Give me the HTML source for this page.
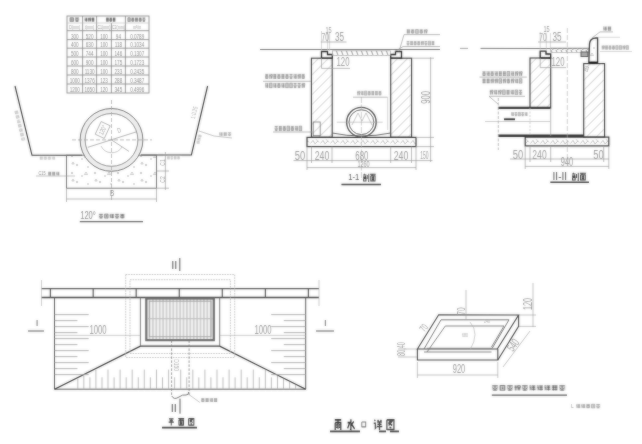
<!DOCTYPE html>
<html><head><meta charset="utf-8">
<style>
html,body{margin:0;padding:0;background:#fff;width:642px;height:444px;overflow:hidden}
svg{display:block;position:absolute;left:0;top:0}
text{font-family:"Liberation Sans",sans-serif}
</style></head><body>
<svg width="642" height="444" viewBox="0 0 642 444">
<defs>
<pattern id="hatch" patternUnits="userSpaceOnUse" width="7" height="7" patternTransform="rotate(45)">
<line x1="0" y1="0" x2="0" y2="7" stroke="#999" stroke-width="0.8"/>
</pattern>
<pattern id="conc" patternUnits="userSpaceOnUse" width="23" height="17">
<circle cx="3" cy="3" r="0.8" fill="#888"/><circle cx="13" cy="6" r="0.7" fill="#999"/><circle cx="8" cy="12" r="0.8" fill="#888"/><circle cx="19" cy="14" r="0.7" fill="#999"/><path d="M17 2 l1.5 2.5 h-3 z M4 9 l1.2 2 h-2.4 z" fill="none" stroke="#999" stroke-width="0.5"/>
</pattern>
<pattern id="slab" patternUnits="userSpaceOnUse" width="10" height="9.2" y="137.4">
<path d="M0.5 6 L3 3 L5 6.5 L8 3.5 M6 2 L9 5" stroke="#999" stroke-width="0.6" fill="none"/>
</pattern>
<pattern id="grate" patternUnits="userSpaceOnUse" width="3.4" height="10" x="149.5">
<rect width="3.4" height="10" fill="#cfcfcf"/><line x1="1.7" y1="0" x2="1.7" y2="10" stroke="#fff" stroke-width="1.3"/>
</pattern>
<pattern id="grt" patternUnits="userSpaceOnUse" width="5" height="5">
<line x1="1" y1="0" x2="3" y2="5" stroke="#aaa" stroke-width="1.2"/>
</pattern>
<filter id="bl" x="0" y="0" width="642" height="444" filterUnits="userSpaceOnUse"><feGaussianBlur in="SourceGraphic" stdDeviation="0.85" result="b"/><feComposite in="SourceGraphic" in2="b" operator="arithmetic" k1="0" k2="0.5" k3="0.5" k4="0"/></filter>
</defs>
<rect width="642" height="444" fill="#fff"/>
<g filter="url(#bl)">
<rect x="67" y="16" width="82" height="77" stroke="#8a8a8a" stroke-width="0.9" fill="none"/>
<line x1="82.6" y1="16" x2="82.6" y2="93" stroke="#8a8a8a" stroke-width="0.9"/>
<line x1="96.6" y1="16" x2="96.6" y2="93" stroke="#8a8a8a" stroke-width="0.9"/>
<line x1="125.4" y1="16" x2="125.4" y2="93" stroke="#8a8a8a" stroke-width="0.9"/>
<line x1="111.4" y1="23" x2="111.4" y2="93" stroke="#8a8a8a" stroke-width="0.9"/>
<line x1="67" y1="23" x2="149" y2="23" stroke="#bbb" stroke-width="0.6"/>
<line x1="67" y1="30.7" x2="149" y2="30.7" stroke="#8a8a8a" stroke-width="0.9"/>
<line x1="67" y1="39.6" x2="149" y2="39.6" stroke="#8a8a8a" stroke-width="0.9"/>
<line x1="67" y1="48.2" x2="149" y2="48.2" stroke="#8a8a8a" stroke-width="0.9"/>
<line x1="67" y1="57" x2="149" y2="57" stroke="#8a8a8a" stroke-width="0.9"/>
<line x1="67" y1="66" x2="149" y2="66" stroke="#8a8a8a" stroke-width="0.9"/>
<line x1="67" y1="75" x2="149" y2="75" stroke="#8a8a8a" stroke-width="0.9"/>
<line x1="67" y1="84" x2="149" y2="84" stroke="#8a8a8a" stroke-width="0.9"/>
<text transform="translate(74.8,35.5) scale(0.58,1)" font-size="8" fill="#8a8a8a" text-anchor="middle" dominant-baseline="central" font-weight="normal" opacity="1">300</text>
<text transform="translate(89.6,35.5) scale(0.58,1)" font-size="8" fill="#8a8a8a" text-anchor="middle" dominant-baseline="central" font-weight="normal" opacity="1">520</text>
<text transform="translate(104.0,35.5) scale(0.58,1)" font-size="8" fill="#8a8a8a" text-anchor="middle" dominant-baseline="central" font-weight="normal" opacity="1">100</text>
<text transform="translate(118.4,35.5) scale(0.58,1)" font-size="8" fill="#8a8a8a" text-anchor="middle" dominant-baseline="central" font-weight="normal" opacity="1">94</text>
<text transform="translate(137.2,35.5) scale(0.58,1)" font-size="8" fill="#8a8a8a" text-anchor="middle" dominant-baseline="central" font-weight="normal" opacity="1">0.0789</text>
<text transform="translate(74.8,44.199999999999996) scale(0.58,1)" font-size="8" fill="#8a8a8a" text-anchor="middle" dominant-baseline="central" font-weight="normal" opacity="1">400</text>
<text transform="translate(89.6,44.199999999999996) scale(0.58,1)" font-size="8" fill="#8a8a8a" text-anchor="middle" dominant-baseline="central" font-weight="normal" opacity="1">630</text>
<text transform="translate(104.0,44.199999999999996) scale(0.58,1)" font-size="8" fill="#8a8a8a" text-anchor="middle" dominant-baseline="central" font-weight="normal" opacity="1">100</text>
<text transform="translate(118.4,44.199999999999996) scale(0.58,1)" font-size="8" fill="#8a8a8a" text-anchor="middle" dominant-baseline="central" font-weight="normal" opacity="1">118</text>
<text transform="translate(137.2,44.199999999999996) scale(0.58,1)" font-size="8" fill="#8a8a8a" text-anchor="middle" dominant-baseline="central" font-weight="normal" opacity="1">0.1034</text>
<text transform="translate(74.8,52.9) scale(0.58,1)" font-size="8" fill="#8a8a8a" text-anchor="middle" dominant-baseline="central" font-weight="normal" opacity="1">500</text>
<text transform="translate(89.6,52.9) scale(0.58,1)" font-size="8" fill="#8a8a8a" text-anchor="middle" dominant-baseline="central" font-weight="normal" opacity="1">744</text>
<text transform="translate(104.0,52.9) scale(0.58,1)" font-size="8" fill="#8a8a8a" text-anchor="middle" dominant-baseline="central" font-weight="normal" opacity="1">100</text>
<text transform="translate(118.4,52.9) scale(0.58,1)" font-size="8" fill="#8a8a8a" text-anchor="middle" dominant-baseline="central" font-weight="normal" opacity="1">146</text>
<text transform="translate(137.2,52.9) scale(0.58,1)" font-size="8" fill="#8a8a8a" text-anchor="middle" dominant-baseline="central" font-weight="normal" opacity="1">0.1307</text>
<text transform="translate(74.8,61.8) scale(0.58,1)" font-size="8" fill="#8a8a8a" text-anchor="middle" dominant-baseline="central" font-weight="normal" opacity="1">600</text>
<text transform="translate(89.6,61.8) scale(0.58,1)" font-size="8" fill="#8a8a8a" text-anchor="middle" dominant-baseline="central" font-weight="normal" opacity="1">900</text>
<text transform="translate(104.0,61.8) scale(0.58,1)" font-size="8" fill="#8a8a8a" text-anchor="middle" dominant-baseline="central" font-weight="normal" opacity="1">100</text>
<text transform="translate(118.4,61.8) scale(0.58,1)" font-size="8" fill="#8a8a8a" text-anchor="middle" dominant-baseline="central" font-weight="normal" opacity="1">175</text>
<text transform="translate(137.2,61.8) scale(0.58,1)" font-size="8" fill="#8a8a8a" text-anchor="middle" dominant-baseline="central" font-weight="normal" opacity="1">0.1723</text>
<text transform="translate(74.8,70.8) scale(0.58,1)" font-size="8" fill="#8a8a8a" text-anchor="middle" dominant-baseline="central" font-weight="normal" opacity="1">800</text>
<text transform="translate(89.6,70.8) scale(0.58,1)" font-size="8" fill="#8a8a8a" text-anchor="middle" dominant-baseline="central" font-weight="normal" opacity="1">1130</text>
<text transform="translate(104.0,70.8) scale(0.58,1)" font-size="8" fill="#8a8a8a" text-anchor="middle" dominant-baseline="central" font-weight="normal" opacity="1">100</text>
<text transform="translate(118.4,70.8) scale(0.58,1)" font-size="8" fill="#8a8a8a" text-anchor="middle" dominant-baseline="central" font-weight="normal" opacity="1">233</text>
<text transform="translate(137.2,70.8) scale(0.58,1)" font-size="8" fill="#8a8a8a" text-anchor="middle" dominant-baseline="central" font-weight="normal" opacity="1">0.2435</text>
<text transform="translate(74.8,79.8) scale(0.58,1)" font-size="8" fill="#8a8a8a" text-anchor="middle" dominant-baseline="central" font-weight="normal" opacity="1">1000</text>
<text transform="translate(89.6,79.8) scale(0.58,1)" font-size="8" fill="#8a8a8a" text-anchor="middle" dominant-baseline="central" font-weight="normal" opacity="1">1376</text>
<text transform="translate(104.0,79.8) scale(0.58,1)" font-size="8" fill="#8a8a8a" text-anchor="middle" dominant-baseline="central" font-weight="normal" opacity="1">123</text>
<text transform="translate(118.4,79.8) scale(0.58,1)" font-size="8" fill="#8a8a8a" text-anchor="middle" dominant-baseline="central" font-weight="normal" opacity="1">288</text>
<text transform="translate(137.2,79.8) scale(0.58,1)" font-size="8" fill="#8a8a8a" text-anchor="middle" dominant-baseline="central" font-weight="normal" opacity="1">0.3487</text>
<text transform="translate(74.8,88.8) scale(0.58,1)" font-size="8" fill="#8a8a8a" text-anchor="middle" dominant-baseline="central" font-weight="normal" opacity="1">1200</text>
<text transform="translate(89.6,88.8) scale(0.58,1)" font-size="8" fill="#8a8a8a" text-anchor="middle" dominant-baseline="central" font-weight="normal" opacity="1">1650</text>
<text transform="translate(104.0,88.8) scale(0.58,1)" font-size="8" fill="#8a8a8a" text-anchor="middle" dominant-baseline="central" font-weight="normal" opacity="1">120</text>
<text transform="translate(118.4,88.8) scale(0.58,1)" font-size="8" fill="#8a8a8a" text-anchor="middle" dominant-baseline="central" font-weight="normal" opacity="1">345</text>
<text transform="translate(137.2,88.8) scale(0.58,1)" font-size="8" fill="#8a8a8a" text-anchor="middle" dominant-baseline="central" font-weight="normal" opacity="1">0.4996</text>
<g opacity="1"><rect x="69.50" y="17.40" width="4.51" height="4.20" fill="#444" opacity="0.25"/><path transform="translate(69.50,17.40) scale(0.451,0.420)" d="M1.5,1 V10 M1.5,1 H8.5 V10 M1.5,9.5 H8.5 M4,4 H6.5 M4,6.5 H6.5" stroke="#444" stroke-width="1.19" fill="none" vector-effect="none"/><rect x="74.75" y="17.40" width="4.51" height="4.20" fill="#444" opacity="0.25"/><path transform="translate(74.75,17.40) scale(0.451,0.420)" d="M1,1.5 H9 M5,1.5 V10 M1.5,5 L3.5,8 M8.5,5 L6.5,8 M2,9.5 H8" stroke="#444" stroke-width="1.19" fill="none" vector-effect="none"/></g>
<g opacity="1"><rect x="84.50" y="17.40" width="3.01" height="4.20" fill="#555" opacity="0.25"/><path transform="translate(84.50,17.40) scale(0.301,0.420)" d="M2,1 L3,2.5 M0.8,4 H2.8 V9 M4.5,2 H9.5 M4.5,5 H9.5 M4,8 H10 M7,2 V10" stroke="#555" stroke-width="1.66" fill="none" vector-effect="none"/><rect x="88.00" y="17.40" width="3.01" height="4.20" fill="#555" opacity="0.25"/><path transform="translate(88.00,17.40) scale(0.301,0.420)" d="M2.5,1 V10 M0.5,4 H4.5 M5.5,1.5 H9.5 V5 H5.5 Z M5.5,7 H9.5 M7.5,5 V10" stroke="#555" stroke-width="1.66" fill="none" vector-effect="none"/><rect x="91.50" y="17.40" width="3.01" height="4.20" fill="#555" opacity="0.25"/><path transform="translate(91.50,17.40) scale(0.301,0.420)" d="M1,2 H9 M1,5 H9 M1,8.5 H9 M3,1 V10 M7,1 V10" stroke="#555" stroke-width="1.66" fill="none" vector-effect="none"/></g>
<g opacity="1"><rect x="106.00" y="17.40" width="2.87" height="4.20" fill="#555" opacity="0.25"/><path transform="translate(106.00,17.40) scale(0.287,0.420)" d="M1,2 H9 M1,5 H9 M1,8.5 H9 M3,1 V10 M7,1 V10" stroke="#555" stroke-width="1.74" fill="none" vector-effect="none"/><rect x="109.33" y="17.40" width="2.87" height="4.20" fill="#555" opacity="0.25"/><path transform="translate(109.33,17.40) scale(0.287,0.420)" d="M1,2 H9 M2,4 V9 M2,4 H8 V9 M2,9 H8 M5,1 V10" stroke="#555" stroke-width="1.74" fill="none" vector-effect="none"/><rect x="112.67" y="17.40" width="2.87" height="4.20" fill="#555" opacity="0.25"/><path transform="translate(112.67,17.40) scale(0.287,0.420)" d="M1,2 H9 M1,5 H9 M1,8.5 H9 M3,1 V10 M7,1 V10" stroke="#555" stroke-width="1.74" fill="none" vector-effect="none"/></g>
<g opacity="1"><rect x="127.50" y="17.40" width="3.18" height="4.20" fill="#666" opacity="0.25"/><path transform="translate(127.50,17.40) scale(0.318,0.420)" d="M1.5,1 V10 M1.5,1 H8.5 V10 M1.5,9.5 H8.5 M4,4 H6.5 M4,6.5 H6.5" stroke="#666" stroke-width="1.57" fill="none" vector-effect="none"/><rect x="131.20" y="17.40" width="3.18" height="4.20" fill="#666" opacity="0.25"/><path transform="translate(131.20,17.40) scale(0.318,0.420)" d="M1,2 H9 M2,4 V9 M2,4 H8 V9 M2,9 H8 M5,1 V10" stroke="#666" stroke-width="1.57" fill="none" vector-effect="none"/><rect x="134.90" y="17.40" width="3.18" height="4.20" fill="#666" opacity="0.25"/><path transform="translate(134.90,17.40) scale(0.318,0.420)" d="M1,2 H9 M1,5 H9 M1,8.5 H9 M3,1 V10 M7,1 V10" stroke="#666" stroke-width="1.57" fill="none" vector-effect="none"/><rect x="138.60" y="17.40" width="3.18" height="4.20" fill="#666" opacity="0.25"/><path transform="translate(138.60,17.40) scale(0.318,0.420)" d="M1,2 H9 M2,4 V9 M2,4 H8 V9 M2,9 H8 M5,1 V10" stroke="#666" stroke-width="1.57" fill="none" vector-effect="none"/><rect x="142.30" y="17.40" width="3.18" height="4.20" fill="#666" opacity="0.25"/><path transform="translate(142.30,17.40) scale(0.318,0.420)" d="M1,1.5 H9 M5,1.5 V10 M1.5,5 L3.5,8 M8.5,5 L6.5,8 M2,9.5 H8" stroke="#666" stroke-width="1.57" fill="none" vector-effect="none"/></g>
<text transform="translate(74.8,27) scale(0.6,1)" font-size="6" fill="#999" text-anchor="middle" dominant-baseline="central" font-weight="normal" opacity="1">D(mm)</text>
<text transform="translate(89.6,27) scale(0.6,1)" font-size="6" fill="#999" text-anchor="middle" dominant-baseline="central" font-weight="normal" opacity="1">t(mm)</text>
<text transform="translate(104,27) scale(0.6,1)" font-size="6" fill="#999" text-anchor="middle" dominant-baseline="central" font-weight="normal" opacity="1">C1(mm)</text>
<text transform="translate(118.4,27) scale(0.6,1)" font-size="6" fill="#999" text-anchor="middle" dominant-baseline="central" font-weight="normal" opacity="1">C2(mm)</text>
<text transform="translate(137.2,27) scale(0.6,1)" font-size="6" fill="#999" text-anchor="middle" dominant-baseline="central" font-weight="normal" opacity="1">m³/m</text>
<path d="M15,86 L32,155.3 L82,155.3" stroke="#333" stroke-width="1.1" fill="none"/>
<path d="M207.6,86 L191.4,155 L141,155" stroke="#333" stroke-width="1.1" fill="none"/>
<rect x="66.5" y="155.2" width="90" height="33" stroke="#666" stroke-width="0.9" fill="url(#conc)"/>
<circle cx="111.5" cy="139.9" r="31.4" stroke="none" stroke-width="0" fill="#fff"/>
<circle cx="111.5" cy="139.9" r="28.9" stroke="#eeeeee" stroke-width="5" fill="none"/>
<circle cx="111.5" cy="139.9" r="31.4" stroke="#666" stroke-width="1" fill="none"/>
<circle cx="111.5" cy="139.9" r="26.4" stroke="#777" stroke-width="0.9" fill="none"/>
<line x1="111.5" y1="100" x2="111.5" y2="202" stroke="#999" stroke-width="0.7" stroke-dasharray="4 2"/>
<line x1="72" y1="139.9" x2="152" y2="139.9" stroke="#999" stroke-width="0.7" stroke-dasharray="4 2"/>
<line x1="87.8" y1="147.3" x2="136.5" y2="131.8" stroke="#888" stroke-width="0.7"/>
<line x1="111.5" y1="139.9" x2="129" y2="151.4" stroke="#888" stroke-width="0.7"/>
<path d="M101,146 A12 12 0 0 0 122,147" stroke="#aaa" stroke-width="0.7" fill="none"/>
<g transform="translate(102.7,130) rotate(-65)"><rect x="-7" y="-5" width="14" height="10" fill="none" stroke="#999" stroke-width="0.7"/></g>
<text transform="translate(102.7,130) rotate(-65) scale(0.7,1)" font-size="7" fill="#999" text-anchor="middle" dominant-baseline="central" font-weight="normal" opacity="1">120°</text>
<text transform="translate(119,130.5) rotate(-20) scale(0.7,1)" font-size="7" fill="#999" text-anchor="middle" dominant-baseline="central" font-weight="normal" opacity="1">D</text>
<line x1="66.5" y1="199" x2="156.5" y2="199" stroke="#999" stroke-width="0.7"/>
<line x1="66.5" y1="188" x2="66.5" y2="202" stroke="#999" stroke-width="0.7"/>
<line x1="156.5" y1="188" x2="156.5" y2="202" stroke="#999" stroke-width="0.7"/>
<line x1="165.4" y1="152" x2="165.4" y2="190" stroke="#999" stroke-width="0.7"/>
<line x1="156.5" y1="188.2" x2="169" y2="188.2" stroke="#999" stroke-width="0.7"/>
<line x1="156.5" y1="171" x2="169" y2="171" stroke="#999" stroke-width="0.7"/>
<text transform="translate(112,193.5) scale(0.7,1)" font-size="9" fill="#888" text-anchor="middle" dominant-baseline="central" font-weight="normal" opacity="1">B</text>
<text transform="translate(162.5,162.5) rotate(-90) scale(0.7,1)" font-size="7" fill="#999" text-anchor="middle" dominant-baseline="central" font-weight="normal" opacity="1">C1</text>
<text transform="translate(162.5,179.5) rotate(-90) scale(0.7,1)" font-size="7" fill="#999" text-anchor="middle" dominant-baseline="central" font-weight="normal" opacity="1">C2</text>
<line x1="36" y1="176" x2="75" y2="176" stroke="#999" stroke-width="0.6"/>
<text transform="translate(42,173.3) scale(0.7,1)" font-size="5.5" fill="#888" text-anchor="middle" dominant-baseline="central" font-weight="normal" opacity="1">C15</text>
<g opacity="1"><rect x="48.00" y="171.60" width="3.44" height="3.80" fill="#888" opacity="0.25"/><path transform="translate(48.00,171.60) scale(0.344,0.380)" d="M1,2 H9 M1,5 H9 M1,8.5 H9 M3,1 V10 M7,1 V10" stroke="#888" stroke-width="1.45" fill="none" vector-effect="none"/><rect x="52.00" y="171.60" width="3.44" height="3.80" fill="#888" opacity="0.25"/><path transform="translate(52.00,171.60) scale(0.344,0.380)" d="M1,2 H9 M1,5 H9 M1,8.5 H9 M3,1 V10 M7,1 V10" stroke="#888" stroke-width="1.45" fill="none" vector-effect="none"/><rect x="56.00" y="171.60" width="3.44" height="3.80" fill="#888" opacity="0.25"/><path transform="translate(56.00,171.60) scale(0.344,0.380)" d="M2,1 L3,2.5 M0.8,4 H2.8 V9 M4.5,2 H9.5 M4.5,5 H9.5 M4,8 H10 M7,2 V10" stroke="#888" stroke-width="1.45" fill="none" vector-effect="none"/></g>
<path d="M199,131 L214,136 L232,138" stroke="#999" stroke-width="0.6" fill="none"/>
<g opacity="1"><rect x="219.00" y="132.20" width="3.73" height="3.60" fill="#999" opacity="0.25"/><path transform="translate(219.00,132.20) scale(0.373,0.360)" d="M2,1 L3,2.5 M0.8,4 H2.8 V9 M4.5,2 H9.5 M4.5,5 H9.5 M4,8 H10 M7,2 V10" stroke="#999" stroke-width="1.39" fill="none" vector-effect="none"/><rect x="223.33" y="132.20" width="3.73" height="3.60" fill="#999" opacity="0.25"/><path transform="translate(223.33,132.20) scale(0.373,0.360)" d="M1,2 H9 M1,5 H9 M1,8.5 H9 M3,1 V10 M7,1 V10" stroke="#999" stroke-width="1.39" fill="none" vector-effect="none"/><rect x="227.67" y="132.20" width="3.73" height="3.60" fill="#999" opacity="0.25"/><path transform="translate(227.67,132.20) scale(0.373,0.360)" d="M1,1.5 H9 M5,1.5 V10 M1.5,5 L3.5,8 M8.5,5 L6.5,8 M2,9.5 H8" stroke="#999" stroke-width="1.39" fill="none" vector-effect="none"/></g>
<g transform="translate(20,126) rotate(76)">
<g opacity="1"><rect x="-16.00" y="-1.80" width="3.93" height="3.60" fill="#bbb" opacity="0.25"/><path transform="translate(-16.00,-1.80) scale(0.393,0.360)" d="M1,2 H9 M1,5 H9 M1,8.5 H9 M3,1 V10 M7,1 V10" stroke="#bbb" stroke-width="1.39" fill="none" vector-effect="none"/><rect x="-11.43" y="-1.80" width="3.93" height="3.60" fill="#bbb" opacity="0.25"/><path transform="translate(-11.43,-1.80) scale(0.393,0.360)" d="M1,2 H9 M2,4 V9 M2,4 H8 V9 M2,9 H8 M5,1 V10" stroke="#bbb" stroke-width="1.39" fill="none" vector-effect="none"/><rect x="-6.86" y="-1.80" width="3.93" height="3.60" fill="#bbb" opacity="0.25"/><path transform="translate(-6.86,-1.80) scale(0.393,0.360)" d="M2,1 L3,2.5 M0.8,4 H2.8 V9 M4.5,2 H9.5 M4.5,5 H9.5 M4,8 H10 M7,2 V10" stroke="#bbb" stroke-width="1.39" fill="none" vector-effect="none"/><rect x="-2.29" y="-1.80" width="3.93" height="3.60" fill="#bbb" opacity="0.25"/><path transform="translate(-2.29,-1.80) scale(0.393,0.360)" d="M1,2 H9 M1,5 H9 M1,8.5 H9 M3,1 V10 M7,1 V10" stroke="#bbb" stroke-width="1.39" fill="none" vector-effect="none"/><rect x="2.29" y="-1.80" width="3.93" height="3.60" fill="#bbb" opacity="0.25"/><path transform="translate(2.29,-1.80) scale(0.393,0.360)" d="M1,2 H9 M2,4 V9 M2,4 H8 V9 M2,9 H8 M5,1 V10" stroke="#bbb" stroke-width="1.39" fill="none" vector-effect="none"/><rect x="6.86" y="-1.80" width="3.93" height="3.60" fill="#bbb" opacity="0.25"/><path transform="translate(6.86,-1.80) scale(0.393,0.360)" d="M1,2 H9 M1,5 H9 M1,8.5 H9 M3,1 V10 M7,1 V10" stroke="#bbb" stroke-width="1.39" fill="none" vector-effect="none"/><rect x="11.43" y="-1.80" width="3.93" height="3.60" fill="#bbb" opacity="0.25"/><path transform="translate(11.43,-1.80) scale(0.393,0.360)" d="M1,1.5 H9 M5,1.5 V10 M1.5,5 L3.5,8 M8.5,5 L6.5,8 M2,9.5 H8" stroke="#bbb" stroke-width="1.39" fill="none" vector-effect="none"/></g>
</g>
<text transform="translate(194,112.6) rotate(-76) scale(0.7,1)" font-size="6.5" fill="#aaa" text-anchor="middle" dominant-baseline="central" font-weight="normal" opacity="1">1:0.25</text>
<g transform="translate(199,139) rotate(-76)">
<g opacity="1"><rect x="-5.00" y="-1.60" width="2.87" height="3.20" fill="#bbb" opacity="0.25"/><path transform="translate(-5.00,-1.60) scale(0.287,0.320)" d="M2.5,1 V10 M0.5,4 H4.5 M5.5,1.5 H9.5 V5 H5.5 Z M5.5,7 H9.5 M7.5,5 V10" stroke="#bbb" stroke-width="1.74" fill="none" vector-effect="none"/><rect x="-1.67" y="-1.60" width="2.87" height="3.20" fill="#bbb" opacity="0.25"/><path transform="translate(-1.67,-1.60) scale(0.287,0.320)" d="M2.5,1 V10 M0.5,4 H4.5 M5.5,1.5 H9.5 V5 H5.5 Z M5.5,7 H9.5 M7.5,5 V10" stroke="#bbb" stroke-width="1.74" fill="none" vector-effect="none"/><rect x="1.67" y="-1.60" width="2.87" height="3.20" fill="#bbb" opacity="0.25"/><path transform="translate(1.67,-1.60) scale(0.287,0.320)" d="M1,2 H9 M2,4 V9 M2,4 H8 V9 M2,9 H8 M5,1 V10" stroke="#bbb" stroke-width="1.74" fill="none" vector-effect="none"/></g>
</g>
<g opacity="1"><rect x="39.50" y="156.40" width="3.48" height="3.20" fill="#bbb" opacity="0.25"/><path transform="translate(39.50,156.40) scale(0.348,0.320)" d="M1,2 H9 M1,5 H9 M1,8.5 H9 M3,1 V10 M7,1 V10" stroke="#bbb" stroke-width="1.56" fill="none" vector-effect="none"/><rect x="43.55" y="156.40" width="3.48" height="3.20" fill="#bbb" opacity="0.25"/><path transform="translate(43.55,156.40) scale(0.348,0.320)" d="M1,2 H9 M2,4 V9 M2,4 H8 V9 M2,9 H8 M5,1 V10" stroke="#bbb" stroke-width="1.56" fill="none" vector-effect="none"/><rect x="47.60" y="156.40" width="3.48" height="3.20" fill="#bbb" opacity="0.25"/><path transform="translate(47.60,156.40) scale(0.348,0.320)" d="M1,2 H9 M2,4 V9 M2,4 H8 V9 M2,9 H8 M5,1 V10" stroke="#bbb" stroke-width="1.56" fill="none" vector-effect="none"/><rect x="51.65" y="156.40" width="3.48" height="3.20" fill="#bbb" opacity="0.25"/><path transform="translate(51.65,156.40) scale(0.348,0.320)" d="M2,1 L3,2.5 M0.8,4 H2.8 V9 M4.5,2 H9.5 M4.5,5 H9.5 M4,8 H10 M7,2 V10" stroke="#bbb" stroke-width="1.56" fill="none" vector-effect="none"/></g>
<g opacity="1"><rect x="167.00" y="156.10" width="2.90" height="3.20" fill="#bbb" opacity="0.25"/><path transform="translate(167.00,156.10) scale(0.290,0.320)" d="M1,2 H9 M1,5 H9 M1,8.5 H9 M3,1 V10 M7,1 V10" stroke="#bbb" stroke-width="1.72" fill="none" vector-effect="none"/><rect x="170.38" y="156.10" width="2.90" height="3.20" fill="#bbb" opacity="0.25"/><path transform="translate(170.38,156.10) scale(0.290,0.320)" d="M1,1.5 H9 M5,1.5 V10 M1.5,5 L3.5,8 M8.5,5 L6.5,8 M2,9.5 H8" stroke="#bbb" stroke-width="1.72" fill="none" vector-effect="none"/><rect x="173.75" y="156.10" width="2.90" height="3.20" fill="#bbb" opacity="0.25"/><path transform="translate(173.75,156.10) scale(0.290,0.320)" d="M1,2 H9 M1,5 H9 M1,8.5 H9 M3,1 V10 M7,1 V10" stroke="#bbb" stroke-width="1.72" fill="none" vector-effect="none"/><rect x="177.12" y="156.10" width="2.90" height="3.20" fill="#bbb" opacity="0.25"/><path transform="translate(177.12,156.10) scale(0.290,0.320)" d="M1,2 H9 M2,4 V9 M2,4 H8 V9 M2,9 H8 M5,1 V10" stroke="#bbb" stroke-width="1.72" fill="none" vector-effect="none"/></g>
<text transform="translate(88,214.6) scale(0.66,1)" font-size="11.5" fill="#8a8a8a" text-anchor="middle" dominant-baseline="central" font-weight="normal" opacity="1">120°</text>
<g opacity="1"><rect x="98.70" y="213.70" width="4.59" height="4.60" fill="#555" opacity="0.25"/><path transform="translate(98.70,213.70) scale(0.459,0.460)" d="M1,1.5 H9 M5,1.5 V10 M1.5,5 L3.5,8 M8.5,5 L6.5,8 M2,9.5 H8" stroke="#555" stroke-width="1.10" fill="none" vector-effect="none"/><rect x="104.04" y="213.70" width="4.59" height="4.60" fill="#555" opacity="0.25"/><path transform="translate(104.04,213.70) scale(0.459,0.460)" d="M1.5,1 V10 M1.5,1 H8.5 V10 M1.5,9.5 H8.5 M4,4 H6.5 M4,6.5 H6.5" stroke="#555" stroke-width="1.10" fill="none" vector-effect="none"/><rect x="109.38" y="213.70" width="4.59" height="4.60" fill="#555" opacity="0.25"/><path transform="translate(109.38,213.70) scale(0.459,0.460)" d="M2,1 L3,2.5 M0.8,4 H2.8 V9 M4.5,2 H9.5 M4.5,5 H9.5 M4,8 H10 M7,2 V10" stroke="#555" stroke-width="1.10" fill="none" vector-effect="none"/><rect x="114.72" y="213.70" width="4.59" height="4.60" fill="#555" opacity="0.25"/><path transform="translate(114.72,213.70) scale(0.459,0.460)" d="M1,1.5 H9 M5,1.5 V10 M1.5,5 L3.5,8 M8.5,5 L6.5,8 M2,9.5 H8" stroke="#555" stroke-width="1.10" fill="none" vector-effect="none"/><rect x="120.06" y="213.70" width="4.59" height="4.60" fill="#555" opacity="0.25"/><path transform="translate(120.06,213.70) scale(0.459,0.460)" d="M1,2 H9 M2,4 V9 M2,4 H8 V9 M2,9 H8 M5,1 V10" stroke="#555" stroke-width="1.10" fill="none" vector-effect="none"/></g>
<line x1="79.8" y1="221.6" x2="143" y2="221.6" stroke="#666" stroke-width="1.3"/>
<line x1="260" y1="49.5" x2="440" y2="49.5" stroke="#666" stroke-width="0.9"/>
<rect x="311.4" y="58.2" width="20.8" height="79" stroke="#333" stroke-width="1.1" fill="url(#hatch)"/>
<rect x="390.7" y="58.2" width="20.9" height="79" stroke="#333" stroke-width="1.1" fill="url(#hatch)"/>
<rect x="307" y="137.4" width="109" height="9.2" stroke="#333" stroke-width="1.2" fill="url(#slab)"/>
<path d="M321.5,58.2 V51.5 H327.5 V54.5 H332.3 V58.2 Z" stroke="#222" stroke-width="1.3" fill="none"/>
<path d="M401.5,58.2 V51.5 H395.5 V54.5 H390.7 V58.2 Z" stroke="#222" stroke-width="1.3" fill="none"/>
<rect x="332.3" y="50.8" width="58.4" height="4.7" stroke="#999" stroke-width="0.6" fill="url(#grt)"/>
<circle cx="361.4" cy="122.2" r="14.8" stroke="#333" stroke-width="1.3" fill="#fff"/>
<circle cx="361.4" cy="122.2" r="12.4" stroke="#555" stroke-width="1" fill="none"/>
<path d="M352,125 L358,113 L362,121 L366,113 L372,125" stroke="#aaa" stroke-width="0.7" fill="none"/>
<path d="M332.2,133 Q361.4,139 390.7,133" stroke="#555" stroke-width="0.9" fill="none"/>
<line x1="361.4" y1="97" x2="361.4" y2="180" stroke="#aaa" stroke-width="0.6" stroke-dasharray="6 1.5"/>
<line x1="336.8" y1="122.2" x2="382.7" y2="122.2" stroke="#aaa" stroke-width="0.6"/>
<rect x="313.2" y="122" width="7" height="13.7" stroke="#777" stroke-width="0.8" fill="none"/>
<line x1="321.5" y1="31" x2="321.5" y2="51" stroke="#bbb" stroke-width="0.6"/>
<line x1="327.6" y1="33" x2="327.6" y2="51" stroke="#bbb" stroke-width="0.6"/>
<line x1="329.6" y1="33" x2="329.6" y2="51" stroke="#bbb" stroke-width="0.6"/>
<line x1="320.8" y1="42" x2="346.5" y2="42" stroke="#999" stroke-width="0.7"/>
<line x1="321.5" y1="58.2" x2="321.5" y2="68.4" stroke="#999" stroke-width="0.7"/>
<line x1="321.5" y1="68.4" x2="350" y2="68.4" stroke="#999" stroke-width="0.7"/>
<text transform="translate(328.5,29.5) scale(0.62,1)" font-size="9" fill="#9a9a9a" text-anchor="middle" dominant-baseline="central" font-weight="normal" opacity="1">15</text>
<text transform="translate(325.2,37) scale(0.6,1)" font-size="11" fill="#9a9a9a" text-anchor="middle" dominant-baseline="central" font-weight="normal" opacity="1">70</text>
<text transform="translate(339.5,36.5) scale(0.68,1)" font-size="12" fill="#9a9a9a" text-anchor="middle" dominant-baseline="central" font-weight="normal" opacity="1">35</text>
<text transform="translate(343,61) scale(0.6,1)" font-size="13" fill="#9a9a9a" text-anchor="middle" dominant-baseline="central" font-weight="normal" opacity="1">120</text>
<g opacity="1"><rect x="406.50" y="29.15" width="3.70" height="4.30" fill="#888" opacity="0.25"/><path transform="translate(406.50,29.15) scale(0.370,0.430)" d="M1,2 H9 M1,5 H9 M1,8.5 H9 M3,1 V10 M7,1 V10" stroke="#888" stroke-width="1.35" fill="none" vector-effect="none"/><rect x="410.80" y="29.15" width="3.70" height="4.30" fill="#888" opacity="0.25"/><path transform="translate(410.80,29.15) scale(0.370,0.430)" d="M1,2 H9 M2,4 V9 M2,4 H8 V9 M2,9 H8 M5,1 V10" stroke="#888" stroke-width="1.35" fill="none" vector-effect="none"/><rect x="415.10" y="29.15" width="3.70" height="4.30" fill="#888" opacity="0.25"/><path transform="translate(415.10,29.15) scale(0.370,0.430)" d="M1.5,1 V10 M1.5,1 H8.5 V10 M1.5,9.5 H8.5 M4,4 H6.5 M4,6.5 H6.5" stroke="#888" stroke-width="1.35" fill="none" vector-effect="none"/><rect x="419.40" y="29.15" width="3.70" height="4.30" fill="#888" opacity="0.25"/><path transform="translate(419.40,29.15) scale(0.370,0.430)" d="M1,2 H9 M2,4 V9 M2,4 H8 V9 M2,9 H8 M5,1 V10" stroke="#888" stroke-width="1.35" fill="none" vector-effect="none"/><rect x="423.70" y="29.15" width="3.70" height="4.30" fill="#888" opacity="0.25"/><path transform="translate(423.70,29.15) scale(0.370,0.430)" d="M2.5,1 V10 M0.5,4 H4.5 M5.5,1.5 H9.5 V5 H5.5 Z M5.5,7 H9.5 M7.5,5 V10" stroke="#888" stroke-width="1.35" fill="none" vector-effect="none"/></g>
<g opacity="1"><rect x="406.50" y="40.85" width="3.06" height="4.30" fill="#999" opacity="0.25"/><path transform="translate(406.50,40.85) scale(0.306,0.430)" d="M1,1.5 H9 M5,1.5 V10 M1.5,5 L3.5,8 M8.5,5 L6.5,8 M2,9.5 H8" stroke="#999" stroke-width="1.63" fill="none" vector-effect="none"/><rect x="410.06" y="40.85" width="3.06" height="4.30" fill="#999" opacity="0.25"/><path transform="translate(410.06,40.85) scale(0.306,0.430)" d="M1,2 H9 M1,5 H9 M1,8.5 H9 M3,1 V10 M7,1 V10" stroke="#999" stroke-width="1.63" fill="none" vector-effect="none"/><rect x="413.62" y="40.85" width="3.06" height="4.30" fill="#999" opacity="0.25"/><path transform="translate(413.62,40.85) scale(0.306,0.430)" d="M1,2 H9 M2,4 V9 M2,4 H8 V9 M2,9 H8 M5,1 V10" stroke="#999" stroke-width="1.63" fill="none" vector-effect="none"/><rect x="417.19" y="40.85" width="3.06" height="4.30" fill="#999" opacity="0.25"/><path transform="translate(417.19,40.85) scale(0.306,0.430)" d="M1,2 H9 M2,4 V9 M2,4 H8 V9 M2,9 H8 M5,1 V10" stroke="#999" stroke-width="1.63" fill="none" vector-effect="none"/><rect x="420.75" y="40.85" width="3.06" height="4.30" fill="#999" opacity="0.25"/><path transform="translate(420.75,40.85) scale(0.306,0.430)" d="M2.5,1 V10 M0.5,4 H4.5 M5.5,1.5 H9.5 V5 H5.5 Z M5.5,7 H9.5 M7.5,5 V10" stroke="#999" stroke-width="1.63" fill="none" vector-effect="none"/><rect x="424.31" y="40.85" width="3.06" height="4.30" fill="#999" opacity="0.25"/><path transform="translate(424.31,40.85) scale(0.306,0.430)" d="M1,1.5 H9 M5,1.5 V10 M1.5,5 L3.5,8 M8.5,5 L6.5,8 M2,9.5 H8" stroke="#999" stroke-width="1.63" fill="none" vector-effect="none"/><rect x="427.88" y="40.85" width="3.06" height="4.30" fill="#999" opacity="0.25"/><path transform="translate(427.88,40.85) scale(0.306,0.430)" d="M1.5,1 V10 M1.5,1 H8.5 V10 M1.5,9.5 H8.5 M4,4 H6.5 M4,6.5 H6.5" stroke="#999" stroke-width="1.63" fill="none" vector-effect="none"/><rect x="431.44" y="40.85" width="3.06" height="4.30" fill="#999" opacity="0.25"/><path transform="translate(431.44,40.85) scale(0.306,0.430)" d="M1,2 H9 M1,5 H9 M1,8.5 H9 M3,1 V10 M7,1 V10" stroke="#999" stroke-width="1.63" fill="none" vector-effect="none"/></g>
<line x1="404" y1="34.6" x2="440" y2="34.6" stroke="#999" stroke-width="0.7"/>
<line x1="403" y1="46.5" x2="440" y2="46.5" stroke="#999" stroke-width="0.7"/>
<line x1="399" y1="51.5" x2="404" y2="34.6" stroke="#999" stroke-width="0.7"/>
<line x1="395" y1="51.5" x2="403" y2="46.5" stroke="#999" stroke-width="0.7"/>
<g opacity="1"><rect x="265.00" y="73.70" width="3.48" height="5.20" fill="#888" opacity="0.25"/><path transform="translate(265.00,73.70) scale(0.348,0.520)" d="M1,2 H9 M2,4 V9 M2,4 H8 V9 M2,9 H8 M5,1 V10" stroke="#888" stroke-width="1.44" fill="none" vector-effect="none"/><rect x="269.05" y="73.70" width="3.48" height="5.20" fill="#888" opacity="0.25"/><path transform="translate(269.05,73.70) scale(0.348,0.520)" d="M2.5,1 V10 M0.5,4 H4.5 M5.5,1.5 H9.5 V5 H5.5 Z M5.5,7 H9.5 M7.5,5 V10" stroke="#888" stroke-width="1.44" fill="none" vector-effect="none"/><rect x="273.10" y="73.70" width="3.48" height="5.20" fill="#888" opacity="0.25"/><path transform="translate(273.10,73.70) scale(0.348,0.520)" d="M1,2 H9 M1,5 H9 M1,8.5 H9 M3,1 V10 M7,1 V10" stroke="#888" stroke-width="1.44" fill="none" vector-effect="none"/><rect x="277.15" y="73.70" width="3.48" height="5.20" fill="#888" opacity="0.25"/><path transform="translate(277.15,73.70) scale(0.348,0.520)" d="M1,2 H9 M2,4 V9 M2,4 H8 V9 M2,9 H8 M5,1 V10" stroke="#888" stroke-width="1.44" fill="none" vector-effect="none"/><rect x="281.20" y="73.70" width="3.48" height="5.20" fill="#888" opacity="0.25"/><path transform="translate(281.20,73.70) scale(0.348,0.520)" d="M1,2 H9 M1,5 H9 M1,8.5 H9 M3,1 V10 M7,1 V10" stroke="#888" stroke-width="1.44" fill="none" vector-effect="none"/><rect x="285.25" y="73.70" width="3.48" height="5.20" fill="#888" opacity="0.25"/><path transform="translate(285.25,73.70) scale(0.348,0.520)" d="M1,2 H9 M2,4 V9 M2,4 H8 V9 M2,9 H8 M5,1 V10" stroke="#888" stroke-width="1.44" fill="none" vector-effect="none"/><rect x="289.30" y="73.70" width="3.48" height="5.20" fill="#888" opacity="0.25"/><path transform="translate(289.30,73.70) scale(0.348,0.520)" d="M1,1.5 H9 M5,1.5 V10 M1.5,5 L3.5,8 M8.5,5 L6.5,8 M2,9.5 H8" stroke="#888" stroke-width="1.44" fill="none" vector-effect="none"/><rect x="293.35" y="73.70" width="3.48" height="5.20" fill="#888" opacity="0.25"/><path transform="translate(293.35,73.70) scale(0.348,0.520)" d="M2,1 L3,2.5 M0.8,4 H2.8 V9 M4.5,2 H9.5 M4.5,5 H9.5 M4,8 H10 M7,2 V10" stroke="#888" stroke-width="1.44" fill="none" vector-effect="none"/><rect x="297.40" y="73.70" width="3.48" height="5.20" fill="#888" opacity="0.25"/><path transform="translate(297.40,73.70) scale(0.348,0.520)" d="M2.5,1 V10 M0.5,4 H4.5 M5.5,1.5 H9.5 V5 H5.5 Z M5.5,7 H9.5 M7.5,5 V10" stroke="#888" stroke-width="1.44" fill="none" vector-effect="none"/><rect x="301.45" y="73.70" width="3.48" height="5.20" fill="#888" opacity="0.25"/><path transform="translate(301.45,73.70) scale(0.348,0.520)" d="M1,2 H9 M2,4 V9 M2,4 H8 V9 M2,9 H8 M5,1 V10" stroke="#888" stroke-width="1.44" fill="none" vector-effect="none"/></g>
<g opacity="1"><rect x="265.00" y="82.70" width="3.48" height="5.20" fill="#888" opacity="0.25"/><path transform="translate(265.00,82.70) scale(0.348,0.520)" d="M2,1 L3,2.5 M0.8,4 H2.8 V9 M4.5,2 H9.5 M4.5,5 H9.5 M4,8 H10 M7,2 V10" stroke="#888" stroke-width="1.44" fill="none" vector-effect="none"/><rect x="269.05" y="82.70" width="3.48" height="5.20" fill="#888" opacity="0.25"/><path transform="translate(269.05,82.70) scale(0.348,0.520)" d="M1.5,1 V10 M1.5,1 H8.5 V10 M1.5,9.5 H8.5 M4,4 H6.5 M4,6.5 H6.5" stroke="#888" stroke-width="1.44" fill="none" vector-effect="none"/><rect x="273.10" y="82.70" width="3.48" height="5.20" fill="#888" opacity="0.25"/><path transform="translate(273.10,82.70) scale(0.348,0.520)" d="M2,1 L3,2.5 M0.8,4 H2.8 V9 M4.5,2 H9.5 M4.5,5 H9.5 M4,8 H10 M7,2 V10" stroke="#888" stroke-width="1.44" fill="none" vector-effect="none"/><rect x="277.15" y="82.70" width="3.48" height="5.20" fill="#888" opacity="0.25"/><path transform="translate(277.15,82.70) scale(0.348,0.520)" d="M1,2 H9 M2,4 V9 M2,4 H8 V9 M2,9 H8 M5,1 V10" stroke="#888" stroke-width="1.44" fill="none" vector-effect="none"/><rect x="281.20" y="82.70" width="3.48" height="5.20" fill="#888" opacity="0.25"/><path transform="translate(281.20,82.70) scale(0.348,0.520)" d="M2,1 L3,2.5 M0.8,4 H2.8 V9 M4.5,2 H9.5 M4.5,5 H9.5 M4,8 H10 M7,2 V10" stroke="#888" stroke-width="1.44" fill="none" vector-effect="none"/><rect x="285.25" y="82.70" width="3.48" height="5.20" fill="#888" opacity="0.25"/><path transform="translate(285.25,82.70) scale(0.348,0.520)" d="M1.5,1 V10 M1.5,1 H8.5 V10 M1.5,9.5 H8.5 M4,4 H6.5 M4,6.5 H6.5" stroke="#888" stroke-width="1.44" fill="none" vector-effect="none"/><rect x="289.30" y="82.70" width="3.48" height="5.20" fill="#888" opacity="0.25"/><path transform="translate(289.30,82.70) scale(0.348,0.520)" d="M1.5,1 V10 M1.5,1 H8.5 V10 M1.5,9.5 H8.5 M4,4 H6.5 M4,6.5 H6.5" stroke="#888" stroke-width="1.44" fill="none" vector-effect="none"/><rect x="293.35" y="82.70" width="3.48" height="5.20" fill="#888" opacity="0.25"/><path transform="translate(293.35,82.70) scale(0.348,0.520)" d="M1,1.5 H9 M5,1.5 V10 M1.5,5 L3.5,8 M8.5,5 L6.5,8 M2,9.5 H8" stroke="#888" stroke-width="1.44" fill="none" vector-effect="none"/><rect x="297.40" y="82.70" width="3.48" height="5.20" fill="#888" opacity="0.25"/><path transform="translate(297.40,82.70) scale(0.348,0.520)" d="M1,1.5 H9 M5,1.5 V10 M1.5,5 L3.5,8 M8.5,5 L6.5,8 M2,9.5 H8" stroke="#888" stroke-width="1.44" fill="none" vector-effect="none"/><rect x="301.45" y="82.70" width="3.48" height="5.20" fill="#888" opacity="0.25"/><path transform="translate(301.45,82.70) scale(0.348,0.520)" d="M2.5,1 V10 M0.5,4 H4.5 M5.5,1.5 H9.5 V5 H5.5 Z M5.5,7 H9.5 M7.5,5 V10" stroke="#888" stroke-width="1.44" fill="none" vector-effect="none"/></g>
<line x1="263" y1="81.3" x2="311" y2="81.3" stroke="#999" stroke-width="0.7"/>
<g opacity="1"><rect x="274.50" y="125.70" width="3.46" height="5.20" fill="#888" opacity="0.25"/><path transform="translate(274.50,125.70) scale(0.346,0.520)" d="M1,1.5 H9 M5,1.5 V10 M1.5,5 L3.5,8 M8.5,5 L6.5,8 M2,9.5 H8" stroke="#888" stroke-width="1.44" fill="none" vector-effect="none"/><rect x="278.53" y="125.70" width="3.46" height="5.20" fill="#888" opacity="0.25"/><path transform="translate(278.53,125.70) scale(0.346,0.520)" d="M1,2 H9 M1,5 H9 M1,8.5 H9 M3,1 V10 M7,1 V10" stroke="#888" stroke-width="1.44" fill="none" vector-effect="none"/><rect x="282.56" y="125.70" width="3.46" height="5.20" fill="#888" opacity="0.25"/><path transform="translate(282.56,125.70) scale(0.346,0.520)" d="M1,2 H9 M2,4 V9 M2,4 H8 V9 M2,9 H8 M5,1 V10" stroke="#888" stroke-width="1.44" fill="none" vector-effect="none"/><rect x="286.59" y="125.70" width="3.46" height="5.20" fill="#888" opacity="0.25"/><path transform="translate(286.59,125.70) scale(0.346,0.520)" d="M1.5,1 V10 M1.5,1 H8.5 V10 M1.5,9.5 H8.5 M4,4 H6.5 M4,6.5 H6.5" stroke="#888" stroke-width="1.44" fill="none" vector-effect="none"/><rect x="290.61" y="125.70" width="3.46" height="5.20" fill="#888" opacity="0.25"/><path transform="translate(290.61,125.70) scale(0.346,0.520)" d="M1,2 H9 M2,4 V9 M2,4 H8 V9 M2,9 H8 M5,1 V10" stroke="#888" stroke-width="1.44" fill="none" vector-effect="none"/><rect x="294.64" y="125.70" width="3.46" height="5.20" fill="#888" opacity="0.25"/><path transform="translate(294.64,125.70) scale(0.346,0.520)" d="M2,1 L3,2.5 M0.8,4 H2.8 V9 M4.5,2 H9.5 M4.5,5 H9.5 M4,8 H10 M7,2 V10" stroke="#888" stroke-width="1.44" fill="none" vector-effect="none"/><rect x="298.67" y="125.70" width="3.46" height="5.20" fill="#888" opacity="0.25"/><path transform="translate(298.67,125.70) scale(0.346,0.520)" d="M1.5,1 V10 M1.5,1 H8.5 V10 M1.5,9.5 H8.5 M4,4 H6.5 M4,6.5 H6.5" stroke="#888" stroke-width="1.44" fill="none" vector-effect="none"/></g>
<line x1="273" y1="132" x2="313" y2="132" stroke="#999" stroke-width="0.7"/>
<g opacity="1"><rect x="357.00" y="90.75" width="3.07" height="4.50" fill="#999" opacity="0.25"/><path transform="translate(357.00,90.75) scale(0.307,0.450)" d="M2.5,1 V10 M0.5,4 H4.5 M5.5,1.5 H9.5 V5 H5.5 Z M5.5,7 H9.5 M7.5,5 V10" stroke="#999" stroke-width="1.63" fill="none" vector-effect="none"/><rect x="360.57" y="90.75" width="3.07" height="4.50" fill="#999" opacity="0.25"/><path transform="translate(360.57,90.75) scale(0.307,0.450)" d="M2,1 L3,2.5 M0.8,4 H2.8 V9 M4.5,2 H9.5 M4.5,5 H9.5 M4,8 H10 M7,2 V10" stroke="#999" stroke-width="1.63" fill="none" vector-effect="none"/><rect x="364.14" y="90.75" width="3.07" height="4.50" fill="#999" opacity="0.25"/><path transform="translate(364.14,90.75) scale(0.307,0.450)" d="M1.5,1 V10 M1.5,1 H8.5 V10 M1.5,9.5 H8.5 M4,4 H6.5 M4,6.5 H6.5" stroke="#999" stroke-width="1.63" fill="none" vector-effect="none"/><rect x="367.71" y="90.75" width="3.07" height="4.50" fill="#999" opacity="0.25"/><path transform="translate(367.71,90.75) scale(0.307,0.450)" d="M1,2 H9 M2,4 V9 M2,4 H8 V9 M2,9 H8 M5,1 V10" stroke="#999" stroke-width="1.63" fill="none" vector-effect="none"/><rect x="371.29" y="90.75" width="3.07" height="4.50" fill="#999" opacity="0.25"/><path transform="translate(371.29,90.75) scale(0.307,0.450)" d="M1,2 H9 M1,5 H9 M1,8.5 H9 M3,1 V10 M7,1 V10" stroke="#999" stroke-width="1.63" fill="none" vector-effect="none"/><rect x="374.86" y="90.75" width="3.07" height="4.50" fill="#999" opacity="0.25"/><path transform="translate(374.86,90.75) scale(0.307,0.450)" d="M1,2 H9 M1,5 H9 M1,8.5 H9 M3,1 V10 M7,1 V10" stroke="#999" stroke-width="1.63" fill="none" vector-effect="none"/><rect x="378.43" y="90.75" width="3.07" height="4.50" fill="#999" opacity="0.25"/><path transform="translate(378.43,90.75) scale(0.307,0.450)" d="M1,2 H9 M2,4 V9 M2,4 H8 V9 M2,9 H8 M5,1 V10" stroke="#999" stroke-width="1.63" fill="none" vector-effect="none"/></g>
<line x1="353" y1="97.2" x2="387.6" y2="97.2" stroke="#999" stroke-width="0.7"/>
<line x1="387.6" y1="97.2" x2="387.6" y2="130" stroke="#bbb" stroke-width="0.6"/>
<line x1="293.5" y1="160.6" x2="432.5" y2="160.6" stroke="#999" stroke-width="0.7"/>
<line x1="307" y1="167.6" x2="416" y2="167.6" stroke="#999" stroke-width="0.7"/>
<line x1="307" y1="146.6" x2="307" y2="170" stroke="#999" stroke-width="0.7"/>
<line x1="311.5" y1="146.6" x2="311.5" y2="163" stroke="#999" stroke-width="0.7"/>
<line x1="332" y1="146.6" x2="332" y2="163" stroke="#999" stroke-width="0.7"/>
<line x1="390.7" y1="146.6" x2="390.7" y2="163" stroke="#999" stroke-width="0.7"/>
<line x1="411.5" y1="146.6" x2="411.5" y2="163" stroke="#999" stroke-width="0.7"/>
<line x1="416" y1="146.6" x2="416" y2="170" stroke="#999" stroke-width="0.7"/>
<line x1="430.6" y1="57.3" x2="430.6" y2="162" stroke="#999" stroke-width="0.7"/>
<line x1="411.7" y1="58.2" x2="434" y2="58.2" stroke="#999" stroke-width="0.7"/>
<line x1="416" y1="137.4" x2="434" y2="137.4" stroke="#999" stroke-width="0.7"/>
<line x1="416" y1="146.6" x2="434" y2="146.6" stroke="#999" stroke-width="0.7"/>
<text transform="translate(425.4,97.3) rotate(-90) scale(0.62,1)" font-size="12.5" fill="#999" text-anchor="middle" dominant-baseline="central" font-weight="normal" opacity="1">900</text>
<text transform="translate(300,155.2) scale(0.72,1)" font-size="13" fill="#9a9a9a" text-anchor="middle" dominant-baseline="central" font-weight="normal" opacity="1">50</text>
<text transform="translate(322,155.2) scale(0.68,1)" font-size="13" fill="#9a9a9a" text-anchor="middle" dominant-baseline="central" font-weight="normal" opacity="1">240</text>
<text transform="translate(361.8,155.2) scale(0.6,1)" font-size="13" fill="#9a9a9a" text-anchor="middle" dominant-baseline="central" font-weight="normal" opacity="1">680</text>
<text transform="translate(401,155.2) scale(0.68,1)" font-size="13" fill="#9a9a9a" text-anchor="middle" dominant-baseline="central" font-weight="normal" opacity="1">240</text>
<text transform="translate(424.5,155.2) scale(0.45,1)" font-size="11" fill="#9a9a9a" text-anchor="middle" dominant-baseline="central" font-weight="normal" opacity="1">150</text>
<text transform="translate(363.5,163.8) scale(0.58,1)" font-size="9.5" fill="#999" text-anchor="middle" dominant-baseline="central" font-weight="normal" opacity="1">1260</text>
<text transform="translate(353.8,177.2) scale(0.85,1)" font-size="9" fill="#555" text-anchor="middle" dominant-baseline="central" font-weight="normal" opacity="1">1-1</text>
<path transform="translate(362.90,173.40) scale(0.620,0.800)" d="M2,0.5 L2.5,1.5 M0.5,2 H5.5 M1.5,3 L2,4.5 M4.5,3 L4,4.5 M0.5,5 H5.5 M1,6.5 V10 M1,6.5 H5 V10 M1,9.5 H5 M7,2 V7 M9.5,0.5 V10 L8.5,9.5" stroke="#444" stroke-width="1.38" fill="none"/>
<path transform="translate(369.80,173.40) scale(0.620,0.800)" d="M0.5,1 H9.5 M4,1 L3.5,3 M1.5,3 V10 M1.5,3 H8.5 V10 M1.5,9.5 H8.5 M3.8,3 V9.5 M6.2,3 V9.5 M3.8,5.5 H6.2 M3.8,7.5 H6.2" stroke="#444" stroke-width="1.38" fill="none"/>
<line x1="341.4" y1="184.6" x2="381" y2="184.6" stroke="#444" stroke-width="1.5"/>
<line x1="460" y1="48.4" x2="468" y2="48.4" stroke="#888" stroke-width="0.8"/>
<line x1="480.5" y1="48.4" x2="589" y2="48.6" stroke="#666" stroke-width="0.9"/>
<rect x="530" y="58" width="20.7" height="50" stroke="#333" stroke-width="1.1" fill="url(#hatch)"/>
<rect x="583.7" y="63.6" width="20.9" height="73.5" stroke="#333" stroke-width="1.1" fill="url(#hatch)"/>
<rect x="525.2" y="137.1" width="83.6" height="8.8" stroke="#333" stroke-width="1.2" fill="url(#slab)"/>
<line x1="498.3" y1="107.9" x2="550.7" y2="107.9" stroke="#333" stroke-width="2.4"/>
<line x1="498.3" y1="135.7" x2="583.7" y2="135.7" stroke="#333" stroke-width="2.4"/>
<path d="M540.2,58 V51.2 H546 V54 H550.7 V58 Z" stroke="#222" stroke-width="1.3" fill="none"/>
<rect x="550.7" y="48" width="38" height="4.3" stroke="#999" stroke-width="0.6" fill="url(#grt)"/>
<path d="M588.8,63 L589.5,44 Q590,38 596,38 H597.6 V63 Z" stroke="#333" stroke-width="1.3" fill="url(#conc)"/>
<line x1="589" y1="62.6" x2="597.6" y2="62.6" stroke="#111" stroke-width="2"/>
<rect x="581" y="52" width="7" height="4.5" stroke="#555" stroke-width="1" fill="#aaa"/>
<line x1="567.3" y1="28" x2="567.3" y2="166" stroke="#aaa" stroke-width="0.6" stroke-dasharray="5 2"/>
<line x1="498.3" y1="98" x2="498.3" y2="150" stroke="#999" stroke-width="0.7" stroke-dasharray="3 1.5"/>
<line x1="530" y1="108" x2="530" y2="136" stroke="#bbb" stroke-width="0.7" stroke-dasharray="2 1.5"/>
<line x1="550.7" y1="108" x2="550.7" y2="136" stroke="#999" stroke-width="0.7"/>
<line x1="485" y1="121.5" x2="550" y2="121.5" stroke="#aaa" stroke-width="0.6"/>
<path d="M504,119.3 H515" stroke="#222" stroke-width="1.8" fill="none"/>
<g opacity="1"><rect x="511.00" y="112.00" width="2.92" height="4.00" fill="#999" opacity="0.25"/><path transform="translate(511.00,112.00) scale(0.292,0.400)" d="M2,1 L3,2.5 M0.8,4 H2.8 V9 M4.5,2 H9.5 M4.5,5 H9.5 M4,8 H10 M7,2 V10" stroke="#999" stroke-width="1.71" fill="none" vector-effect="none"/><rect x="514.40" y="112.00" width="2.92" height="4.00" fill="#999" opacity="0.25"/><path transform="translate(514.40,112.00) scale(0.292,0.400)" d="M1,1.5 H9 M5,1.5 V10 M1.5,5 L3.5,8 M8.5,5 L6.5,8 M2,9.5 H8" stroke="#999" stroke-width="1.71" fill="none" vector-effect="none"/><rect x="517.80" y="112.00" width="2.92" height="4.00" fill="#999" opacity="0.25"/><path transform="translate(517.80,112.00) scale(0.292,0.400)" d="M1.5,1 V10 M1.5,1 H8.5 V10 M1.5,9.5 H8.5 M4,4 H6.5 M4,6.5 H6.5" stroke="#999" stroke-width="1.71" fill="none" vector-effect="none"/><rect x="521.20" y="112.00" width="2.92" height="4.00" fill="#999" opacity="0.25"/><path transform="translate(521.20,112.00) scale(0.292,0.400)" d="M1,1.5 H9 M5,1.5 V10 M1.5,5 L3.5,8 M8.5,5 L6.5,8 M2,9.5 H8" stroke="#999" stroke-width="1.71" fill="none" vector-effect="none"/><rect x="524.60" y="112.00" width="2.92" height="4.00" fill="#999" opacity="0.25"/><path transform="translate(524.60,112.00) scale(0.292,0.400)" d="M2,1 L3,2.5 M0.8,4 H2.8 V9 M4.5,2 H9.5 M4.5,5 H9.5 M4,8 H10 M7,2 V10" stroke="#999" stroke-width="1.71" fill="none" vector-effect="none"/></g>
<line x1="540.2" y1="32" x2="540.2" y2="50" stroke="#bbb" stroke-width="0.6"/>
<line x1="546.3" y1="33" x2="546.3" y2="50" stroke="#bbb" stroke-width="0.6"/>
<line x1="550.4" y1="33" x2="550.4" y2="50" stroke="#bbb" stroke-width="0.6"/>
<line x1="538" y1="42" x2="566" y2="42" stroke="#999" stroke-width="0.7"/>
<line x1="540.2" y1="58" x2="540.2" y2="67.6" stroke="#999" stroke-width="0.7"/>
<line x1="540.2" y1="67.6" x2="566" y2="67.6" stroke="#999" stroke-width="0.7"/>
<text transform="translate(546.5,29) scale(0.62,1)" font-size="9" fill="#9a9a9a" text-anchor="middle" dominant-baseline="central" font-weight="normal" opacity="1">15</text>
<text transform="translate(543,37) scale(0.6,1)" font-size="11" fill="#9a9a9a" text-anchor="middle" dominant-baseline="central" font-weight="normal" opacity="1">70</text>
<text transform="translate(557,36.5) scale(0.68,1)" font-size="12" fill="#9a9a9a" text-anchor="middle" dominant-baseline="central" font-weight="normal" opacity="1">35</text>
<text transform="translate(558,61.5) scale(0.6,1)" font-size="13" fill="#9a9a9a" text-anchor="middle" dominant-baseline="central" font-weight="normal" opacity="1">120</text>
<text transform="translate(585.5,69) rotate(-90) scale(0.6,1)" font-size="8" fill="#999" text-anchor="middle" dominant-baseline="central" font-weight="normal" opacity="1">40</text>
<g opacity="1"><rect x="603.00" y="26.35" width="3.87" height="4.30" fill="#777" opacity="0.25"/><path transform="translate(603.00,26.35) scale(0.387,0.430)" d="M2,1 L3,2.5 M0.8,4 H2.8 V9 M4.5,2 H9.5 M4.5,5 H9.5 M4,8 H10 M7,2 V10" stroke="#777" stroke-width="1.29" fill="none" vector-effect="none"/><rect x="607.50" y="26.35" width="3.87" height="4.30" fill="#777" opacity="0.25"/><path transform="translate(607.50,26.35) scale(0.387,0.430)" d="M1,2 H9 M1,5 H9 M1,8.5 H9 M3,1 V10 M7,1 V10" stroke="#777" stroke-width="1.29" fill="none" vector-effect="none"/></g>
<line x1="600" y1="31.9" x2="613" y2="31.9" stroke="#999" stroke-width="0.7"/>
<line x1="592" y1="38" x2="600" y2="31.9" stroke="#999" stroke-width="0.7"/>
<line x1="598" y1="37.3" x2="620" y2="37.3" stroke="#bbb" stroke-width="0.6"/>
<g opacity="1"><rect x="601.60" y="45.30" width="2.98" height="4.20" fill="#999" opacity="0.25"/><path transform="translate(601.60,45.30) scale(0.298,0.420)" d="M2.5,1 V10 M0.5,4 H4.5 M5.5,1.5 H9.5 V5 H5.5 Z M5.5,7 H9.5 M7.5,5 V10" stroke="#999" stroke-width="1.68" fill="none" vector-effect="none"/><rect x="605.06" y="45.30" width="2.98" height="4.20" fill="#999" opacity="0.25"/><path transform="translate(605.06,45.30) scale(0.298,0.420)" d="M1,2 H9 M1,5 H9 M1,8.5 H9 M3,1 V10 M7,1 V10" stroke="#999" stroke-width="1.68" fill="none" vector-effect="none"/><rect x="608.52" y="45.30" width="2.98" height="4.20" fill="#999" opacity="0.25"/><path transform="translate(608.52,45.30) scale(0.298,0.420)" d="M1,2 H9 M2,4 V9 M2,4 H8 V9 M2,9 H8 M5,1 V10" stroke="#999" stroke-width="1.68" fill="none" vector-effect="none"/><rect x="611.99" y="45.30" width="2.98" height="4.20" fill="#999" opacity="0.25"/><path transform="translate(611.99,45.30) scale(0.298,0.420)" d="M1,2 H9 M2,4 V9 M2,4 H8 V9 M2,9 H8 M5,1 V10" stroke="#999" stroke-width="1.68" fill="none" vector-effect="none"/><rect x="615.45" y="45.30" width="2.98" height="4.20" fill="#999" opacity="0.25"/><path transform="translate(615.45,45.30) scale(0.298,0.420)" d="M1.5,1 V10 M1.5,1 H8.5 V10 M1.5,9.5 H8.5 M4,4 H6.5 M4,6.5 H6.5" stroke="#999" stroke-width="1.68" fill="none" vector-effect="none"/><rect x="618.91" y="45.30" width="2.98" height="4.20" fill="#999" opacity="0.25"/><path transform="translate(618.91,45.30) scale(0.298,0.420)" d="M1.5,1 V10 M1.5,1 H8.5 V10 M1.5,9.5 H8.5 M4,4 H6.5 M4,6.5 H6.5" stroke="#999" stroke-width="1.68" fill="none" vector-effect="none"/><rect x="622.38" y="45.30" width="2.98" height="4.20" fill="#999" opacity="0.25"/><path transform="translate(622.38,45.30) scale(0.298,0.420)" d="M2.5,1 V10 M0.5,4 H4.5 M5.5,1.5 H9.5 V5 H5.5 Z M5.5,7 H9.5 M7.5,5 V10" stroke="#999" stroke-width="1.68" fill="none" vector-effect="none"/><rect x="625.84" y="45.30" width="2.98" height="4.20" fill="#999" opacity="0.25"/><path transform="translate(625.84,45.30) scale(0.298,0.420)" d="M1.5,1 V10 M1.5,1 H8.5 V10 M1.5,9.5 H8.5 M4,4 H6.5 M4,6.5 H6.5" stroke="#999" stroke-width="1.68" fill="none" vector-effect="none"/></g>
<line x1="600" y1="51.5" x2="632" y2="51.5" stroke="#bbb" stroke-width="0.6"/>
<g opacity="1"><rect x="482.30" y="71.00" width="3.49" height="5.00" fill="#888" opacity="0.25"/><path transform="translate(482.30,71.00) scale(0.349,0.500)" d="M1,2 H9 M2,4 V9 M2,4 H8 V9 M2,9 H8 M5,1 V10" stroke="#888" stroke-width="1.43" fill="none" vector-effect="none"/><rect x="486.36" y="71.00" width="3.49" height="5.00" fill="#888" opacity="0.25"/><path transform="translate(486.36,71.00) scale(0.349,0.500)" d="M2,1 L3,2.5 M0.8,4 H2.8 V9 M4.5,2 H9.5 M4.5,5 H9.5 M4,8 H10 M7,2 V10" stroke="#888" stroke-width="1.43" fill="none" vector-effect="none"/><rect x="490.42" y="71.00" width="3.49" height="5.00" fill="#888" opacity="0.25"/><path transform="translate(490.42,71.00) scale(0.349,0.500)" d="M1,2 H9 M2,4 V9 M2,4 H8 V9 M2,9 H8 M5,1 V10" stroke="#888" stroke-width="1.43" fill="none" vector-effect="none"/><rect x="494.48" y="71.00" width="3.49" height="5.00" fill="#888" opacity="0.25"/><path transform="translate(494.48,71.00) scale(0.349,0.500)" d="M2,1 L3,2.5 M0.8,4 H2.8 V9 M4.5,2 H9.5 M4.5,5 H9.5 M4,8 H10 M7,2 V10" stroke="#888" stroke-width="1.43" fill="none" vector-effect="none"/><rect x="498.54" y="71.00" width="3.49" height="5.00" fill="#888" opacity="0.25"/><path transform="translate(498.54,71.00) scale(0.349,0.500)" d="M1,2 H9 M1,5 H9 M1,8.5 H9 M3,1 V10 M7,1 V10" stroke="#888" stroke-width="1.43" fill="none" vector-effect="none"/><rect x="502.60" y="71.00" width="3.49" height="5.00" fill="#888" opacity="0.25"/><path transform="translate(502.60,71.00) scale(0.349,0.500)" d="M1,2 H9 M1,5 H9 M1,8.5 H9 M3,1 V10 M7,1 V10" stroke="#888" stroke-width="1.43" fill="none" vector-effect="none"/><rect x="506.66" y="71.00" width="3.49" height="5.00" fill="#888" opacity="0.25"/><path transform="translate(506.66,71.00) scale(0.349,0.500)" d="M1.5,1 V10 M1.5,1 H8.5 V10 M1.5,9.5 H8.5 M4,4 H6.5 M4,6.5 H6.5" stroke="#888" stroke-width="1.43" fill="none" vector-effect="none"/><rect x="510.72" y="71.00" width="3.49" height="5.00" fill="#888" opacity="0.25"/><path transform="translate(510.72,71.00) scale(0.349,0.500)" d="M2,1 L3,2.5 M0.8,4 H2.8 V9 M4.5,2 H9.5 M4.5,5 H9.5 M4,8 H10 M7,2 V10" stroke="#888" stroke-width="1.43" fill="none" vector-effect="none"/><rect x="514.78" y="71.00" width="3.49" height="5.00" fill="#888" opacity="0.25"/><path transform="translate(514.78,71.00) scale(0.349,0.500)" d="M2.5,1 V10 M0.5,4 H4.5 M5.5,1.5 H9.5 V5 H5.5 Z M5.5,7 H9.5 M7.5,5 V10" stroke="#888" stroke-width="1.43" fill="none" vector-effect="none"/><rect x="518.84" y="71.00" width="3.49" height="5.00" fill="#888" opacity="0.25"/><path transform="translate(518.84,71.00) scale(0.349,0.500)" d="M2.5,1 V10 M0.5,4 H4.5 M5.5,1.5 H9.5 V5 H5.5 Z M5.5,7 H9.5 M7.5,5 V10" stroke="#888" stroke-width="1.43" fill="none" vector-effect="none"/></g>
<g opacity="1"><rect x="482.30" y="78.30" width="3.49" height="5.00" fill="#888" opacity="0.25"/><path transform="translate(482.30,78.30) scale(0.349,0.500)" d="M1,2 H9 M1,5 H9 M1,8.5 H9 M3,1 V10 M7,1 V10" stroke="#888" stroke-width="1.43" fill="none" vector-effect="none"/><rect x="486.36" y="78.30" width="3.49" height="5.00" fill="#888" opacity="0.25"/><path transform="translate(486.36,78.30) scale(0.349,0.500)" d="M1,2 H9 M1,5 H9 M1,8.5 H9 M3,1 V10 M7,1 V10" stroke="#888" stroke-width="1.43" fill="none" vector-effect="none"/><rect x="490.42" y="78.30" width="3.49" height="5.00" fill="#888" opacity="0.25"/><path transform="translate(490.42,78.30) scale(0.349,0.500)" d="M2.5,1 V10 M0.5,4 H4.5 M5.5,1.5 H9.5 V5 H5.5 Z M5.5,7 H9.5 M7.5,5 V10" stroke="#888" stroke-width="1.43" fill="none" vector-effect="none"/><rect x="494.48" y="78.30" width="3.49" height="5.00" fill="#888" opacity="0.25"/><path transform="translate(494.48,78.30) scale(0.349,0.500)" d="M2.5,1 V10 M0.5,4 H4.5 M5.5,1.5 H9.5 V5 H5.5 Z M5.5,7 H9.5 M7.5,5 V10" stroke="#888" stroke-width="1.43" fill="none" vector-effect="none"/><rect x="498.54" y="78.30" width="3.49" height="5.00" fill="#888" opacity="0.25"/><path transform="translate(498.54,78.30) scale(0.349,0.500)" d="M1.5,1 V10 M1.5,1 H8.5 V10 M1.5,9.5 H8.5 M4,4 H6.5 M4,6.5 H6.5" stroke="#888" stroke-width="1.43" fill="none" vector-effect="none"/><rect x="502.60" y="78.30" width="3.49" height="5.00" fill="#888" opacity="0.25"/><path transform="translate(502.60,78.30) scale(0.349,0.500)" d="M2.5,1 V10 M0.5,4 H4.5 M5.5,1.5 H9.5 V5 H5.5 Z M5.5,7 H9.5 M7.5,5 V10" stroke="#888" stroke-width="1.43" fill="none" vector-effect="none"/><rect x="506.66" y="78.30" width="3.49" height="5.00" fill="#888" opacity="0.25"/><path transform="translate(506.66,78.30) scale(0.349,0.500)" d="M1,2 H9 M2,4 V9 M2,4 H8 V9 M2,9 H8 M5,1 V10" stroke="#888" stroke-width="1.43" fill="none" vector-effect="none"/><rect x="510.72" y="78.30" width="3.49" height="5.00" fill="#888" opacity="0.25"/><path transform="translate(510.72,78.30) scale(0.349,0.500)" d="M2.5,1 V10 M0.5,4 H4.5 M5.5,1.5 H9.5 V5 H5.5 Z M5.5,7 H9.5 M7.5,5 V10" stroke="#888" stroke-width="1.43" fill="none" vector-effect="none"/><rect x="514.78" y="78.30" width="3.49" height="5.00" fill="#888" opacity="0.25"/><path transform="translate(514.78,78.30) scale(0.349,0.500)" d="M2,1 L3,2.5 M0.8,4 H2.8 V9 M4.5,2 H9.5 M4.5,5 H9.5 M4,8 H10 M7,2 V10" stroke="#888" stroke-width="1.43" fill="none" vector-effect="none"/><rect x="518.84" y="78.30" width="3.49" height="5.00" fill="#888" opacity="0.25"/><path transform="translate(518.84,78.30) scale(0.349,0.500)" d="M1.5,1 V10 M1.5,1 H8.5 V10 M1.5,9.5 H8.5 M4,4 H6.5 M4,6.5 H6.5" stroke="#888" stroke-width="1.43" fill="none" vector-effect="none"/></g>
<line x1="479.5" y1="77.1" x2="526.8" y2="77.1" stroke="#999" stroke-width="0.7"/>
<g opacity="1"><rect x="489.60" y="89.60" width="3.58" height="5.00" fill="#888" opacity="0.25"/><path transform="translate(489.60,89.60) scale(0.358,0.500)" d="M2.5,1 V10 M0.5,4 H4.5 M5.5,1.5 H9.5 V5 H5.5 Z M5.5,7 H9.5 M7.5,5 V10" stroke="#888" stroke-width="1.40" fill="none" vector-effect="none"/><rect x="493.76" y="89.60" width="3.58" height="5.00" fill="#888" opacity="0.25"/><path transform="translate(493.76,89.60) scale(0.358,0.500)" d="M2,1 L3,2.5 M0.8,4 H2.8 V9 M4.5,2 H9.5 M4.5,5 H9.5 M4,8 H10 M7,2 V10" stroke="#888" stroke-width="1.40" fill="none" vector-effect="none"/><rect x="497.93" y="89.60" width="3.58" height="5.00" fill="#888" opacity="0.25"/><path transform="translate(497.93,89.60) scale(0.358,0.500)" d="M2.5,1 V10 M0.5,4 H4.5 M5.5,1.5 H9.5 V5 H5.5 Z M5.5,7 H9.5 M7.5,5 V10" stroke="#888" stroke-width="1.40" fill="none" vector-effect="none"/><rect x="502.09" y="89.60" width="3.58" height="5.00" fill="#888" opacity="0.25"/><path transform="translate(502.09,89.60) scale(0.358,0.500)" d="M1.5,1 V10 M1.5,1 H8.5 V10 M1.5,9.5 H8.5 M4,4 H6.5 M4,6.5 H6.5" stroke="#888" stroke-width="1.40" fill="none" vector-effect="none"/><rect x="506.25" y="89.60" width="3.58" height="5.00" fill="#888" opacity="0.25"/><path transform="translate(506.25,89.60) scale(0.358,0.500)" d="M1,2 H9 M1,5 H9 M1,8.5 H9 M3,1 V10 M7,1 V10" stroke="#888" stroke-width="1.40" fill="none" vector-effect="none"/><rect x="510.41" y="89.60" width="3.58" height="5.00" fill="#888" opacity="0.25"/><path transform="translate(510.41,89.60) scale(0.358,0.500)" d="M2,1 L3,2.5 M0.8,4 H2.8 V9 M4.5,2 H9.5 M4.5,5 H9.5 M4,8 H10 M7,2 V10" stroke="#888" stroke-width="1.40" fill="none" vector-effect="none"/><rect x="514.58" y="89.60" width="3.58" height="5.00" fill="#888" opacity="0.25"/><path transform="translate(514.58,89.60) scale(0.358,0.500)" d="M1.5,1 V10 M1.5,1 H8.5 V10 M1.5,9.5 H8.5 M4,4 H6.5 M4,6.5 H6.5" stroke="#888" stroke-width="1.40" fill="none" vector-effect="none"/><rect x="518.74" y="89.60" width="3.58" height="5.00" fill="#888" opacity="0.25"/><path transform="translate(518.74,89.60) scale(0.358,0.500)" d="M1,1.5 H9 M5,1.5 V10 M1.5,5 L3.5,8 M8.5,5 L6.5,8 M2,9.5 H8" stroke="#888" stroke-width="1.40" fill="none" vector-effect="none"/></g>
<line x1="489" y1="96.3" x2="525" y2="96.3" stroke="#999" stroke-width="0.7"/>
<line x1="489" y1="96.3" x2="498" y2="104" stroke="#999" stroke-width="0.7"/>
<line x1="510" y1="159" x2="609" y2="159" stroke="#999" stroke-width="0.7"/>
<line x1="525.2" y1="166.4" x2="608.8" y2="166.4" stroke="#999" stroke-width="0.7"/>
<line x1="525.2" y1="146" x2="525.2" y2="169" stroke="#999" stroke-width="0.7"/>
<line x1="530" y1="146" x2="530" y2="162" stroke="#999" stroke-width="0.7"/>
<line x1="550.7" y1="146" x2="550.7" y2="162" stroke="#999" stroke-width="0.7"/>
<line x1="603.7" y1="146" x2="603.7" y2="162" stroke="#999" stroke-width="0.7"/>
<line x1="608.8" y1="146" x2="608.8" y2="169" stroke="#999" stroke-width="0.7"/>
<text transform="translate(518,154.5) scale(0.72,1)" font-size="13" fill="#9a9a9a" text-anchor="middle" dominant-baseline="central" font-weight="normal" opacity="1">50</text>
<text transform="translate(539.5,154.5) scale(0.66,1)" font-size="13" fill="#9a9a9a" text-anchor="middle" dominant-baseline="central" font-weight="normal" opacity="1">240</text>
<text transform="translate(598.5,154.5) scale(0.72,1)" font-size="13" fill="#9a9a9a" text-anchor="middle" dominant-baseline="central" font-weight="normal" opacity="1">50</text>
<text transform="translate(567,162) scale(0.62,1)" font-size="12" fill="#9a9a9a" text-anchor="middle" dominant-baseline="central" font-weight="normal" opacity="1">940</text>
<text transform="translate(559.8,176.2) scale(1,1)" font-size="10" fill="#555" text-anchor="middle" dominant-baseline="central" font-weight="normal" opacity="1" font-family="Liberation Serif">II-II</text>
<path transform="translate(571.80,172.40) scale(0.680,0.800)" d="M2,0.5 L2.5,1.5 M0.5,2 H5.5 M1.5,3 L2,4.5 M4.5,3 L4,4.5 M0.5,5 H5.5 M1,6.5 V10 M1,6.5 H5 V10 M1,9.5 H5 M7,2 V7 M9.5,0.5 V10 L8.5,9.5" stroke="#444" stroke-width="1.38" fill="none"/>
<path transform="translate(579.50,172.40) scale(0.680,0.800)" d="M0.5,1 H9.5 M4,1 L3.5,3 M1.5,3 V10 M1.5,3 H8.5 V10 M1.5,9.5 H8.5 M3.8,3 V9.5 M6.2,3 V9.5 M3.8,5.5 H6.2 M3.8,7.5 H6.2" stroke="#444" stroke-width="1.38" fill="none"/>
<line x1="550.3" y1="182.2" x2="589" y2="182.2" stroke="#444" stroke-width="1.5"/>
<line x1="41.5" y1="288.7" x2="319" y2="288.7" stroke="#555" stroke-width="1.3"/>
<line x1="41.5" y1="297.5" x2="319" y2="297.5" stroke="#444" stroke-width="1.6"/>
<line x1="50.4" y1="288.7" x2="50.4" y2="297.5" stroke="#555" stroke-width="1.2"/>
<line x1="93.2" y1="288.7" x2="93.2" y2="297.5" stroke="#555" stroke-width="1.2"/>
<line x1="136.2" y1="288.7" x2="136.2" y2="297.5" stroke="#555" stroke-width="1.2"/>
<line x1="179.3" y1="288.7" x2="179.3" y2="297.5" stroke="#555" stroke-width="1.2"/>
<line x1="222.3" y1="288.7" x2="222.3" y2="297.5" stroke="#555" stroke-width="1.2"/>
<line x1="265.4" y1="288.7" x2="265.4" y2="297.5" stroke="#555" stroke-width="1.2"/>
<line x1="308.4" y1="288.7" x2="308.4" y2="297.5" stroke="#555" stroke-width="1.2"/>
<line x1="41.5" y1="280" x2="41.5" y2="306" stroke="#aaa" stroke-width="0.6"/>
<line x1="319" y1="280" x2="319" y2="306" stroke="#aaa" stroke-width="0.6"/>
<path d="M54.5,297.5 V389.2 H305.7 V297.5" stroke="#555" stroke-width="1" fill="none"/>
<path d="M54.5,389.2 L140.4,346.2 L219.7,346.2 L305.7,389.2" stroke="#333" stroke-width="1.2" fill="none"/>
<line x1="140.4" y1="297.5" x2="140.4" y2="346.2" stroke="#666" stroke-width="0.9"/>
<line x1="219.7" y1="297.5" x2="219.7" y2="346.2" stroke="#666" stroke-width="0.9"/>
<rect x="146.3" y="298.5" width="67.5" height="41.6" stroke="#666" stroke-width="2.2" fill="url(#grate)"/>
<rect x="149.3" y="301.2" width="61.7" height="35.5" stroke="#999" stroke-width="0.8" fill="none"/>
<line x1="147" y1="318.7" x2="213" y2="318.7" stroke="#bbb" stroke-width="1"/>
<rect x="125.7" y="274.5" width="109" height="83" stroke="#aaa" stroke-width="0.7" fill="none" stroke-dasharray="1.6 1"/>
<rect x="130" y="279.7" width="100.4" height="73.8" stroke="#aaa" stroke-width="0.7" fill="none" stroke-dasharray="1.6 1"/>
<line x1="171.6" y1="340.4" x2="171.6" y2="396" stroke="#777" stroke-width="0.8" stroke-dasharray="2.5 1.5"/>
<line x1="189.1" y1="340.4" x2="189.1" y2="396" stroke="#777" stroke-width="0.8" stroke-dasharray="2.5 1.5"/>
<path d="M171.8,396 Q174,400 178,397.5 Q183,394 186,395 Q189,395 188.6,392" stroke="#666" stroke-width="0.9" fill="none"/>
<path d="M188.6,394.3 L199.8,402.4" stroke="#999" stroke-width="0.6" fill="none"/>
<line x1="54.5" y1="314.6" x2="88.7" y2="314.6" stroke="#999" stroke-width="0.8"/>
<line x1="305.7" y1="314.6" x2="271.2" y2="314.6" stroke="#999" stroke-width="0.8"/>
<line x1="54.5" y1="320.6" x2="77.4" y2="320.6" stroke="#999" stroke-width="0.8"/>
<line x1="305.7" y1="320.6" x2="283.8" y2="320.6" stroke="#999" stroke-width="0.8"/>
<line x1="54.5" y1="326.6" x2="88.7" y2="326.6" stroke="#999" stroke-width="0.8"/>
<line x1="305.7" y1="326.6" x2="271.2" y2="326.6" stroke="#999" stroke-width="0.8"/>
<line x1="54.5" y1="332.6" x2="77.4" y2="332.6" stroke="#999" stroke-width="0.8"/>
<line x1="305.7" y1="332.6" x2="283.8" y2="332.6" stroke="#999" stroke-width="0.8"/>
<line x1="54.5" y1="338.6" x2="88.7" y2="338.6" stroke="#999" stroke-width="0.8"/>
<line x1="305.7" y1="338.6" x2="271.2" y2="338.6" stroke="#999" stroke-width="0.8"/>
<line x1="54.5" y1="344.6" x2="77.4" y2="344.6" stroke="#999" stroke-width="0.8"/>
<line x1="305.7" y1="344.6" x2="283.8" y2="344.6" stroke="#999" stroke-width="0.8"/>
<line x1="54.5" y1="350.6" x2="88.7" y2="350.6" stroke="#999" stroke-width="0.8"/>
<line x1="305.7" y1="350.6" x2="271.2" y2="350.6" stroke="#999" stroke-width="0.8"/>
<line x1="54.5" y1="356.6" x2="77.4" y2="356.6" stroke="#999" stroke-width="0.8"/>
<line x1="305.7" y1="356.6" x2="283.8" y2="356.6" stroke="#999" stroke-width="0.8"/>
<line x1="54.5" y1="362.6" x2="88.7" y2="362.6" stroke="#999" stroke-width="0.8"/>
<line x1="305.7" y1="362.6" x2="271.2" y2="362.6" stroke="#999" stroke-width="0.8"/>
<line x1="54.5" y1="368.6" x2="77.4" y2="368.6" stroke="#999" stroke-width="0.8"/>
<line x1="305.7" y1="368.6" x2="283.8" y2="368.6" stroke="#999" stroke-width="0.8"/>
<line x1="54.5" y1="374.6" x2="88.7" y2="374.6" stroke="#999" stroke-width="0.8"/>
<line x1="305.7" y1="374.6" x2="271.2" y2="374.6" stroke="#999" stroke-width="0.8"/>
<line x1="54.5" y1="335.4" x2="140.4" y2="335.4" stroke="#aaa" stroke-width="0.6"/>
<line x1="219.7" y1="335.4" x2="305.7" y2="335.4" stroke="#aaa" stroke-width="0.6"/>
<g stroke="#aaa" stroke-width="0.8"><line x1="77.8" y1="389.2" x2="77.8" y2="378.3"/><line x1="83.8" y1="389.2" x2="83.8" y2="375.3"/><line x1="89.9" y1="389.2" x2="89.9" y2="377.3"/><line x1="95.9" y1="389.2" x2="95.9" y2="369.6"/><line x1="102.0" y1="389.2" x2="102.0" y2="377.3"/><line x1="108.0" y1="389.2" x2="108.0" y2="369.6"/><line x1="114.1" y1="389.2" x2="114.1" y2="377.3"/><line x1="120.1" y1="389.2" x2="120.1" y2="369.6"/><line x1="126.2" y1="389.2" x2="126.2" y2="377.3"/><line x1="132.2" y1="389.2" x2="132.2" y2="369.6"/><line x1="138.3" y1="389.2" x2="138.3" y2="377.3"/><line x1="144.3" y1="389.2" x2="144.3" y2="369.6"/><line x1="150.4" y1="389.2" x2="150.4" y2="377.3"/><line x1="156.5" y1="389.2" x2="156.5" y2="369.6"/><line x1="162.5" y1="389.2" x2="162.5" y2="377.3"/><line x1="168.6" y1="389.2" x2="168.6" y2="369.6"/><line x1="174.6" y1="389.2" x2="174.6" y2="377.3"/><line x1="180.7" y1="389.2" x2="180.7" y2="369.6"/><line x1="186.7" y1="389.2" x2="186.7" y2="377.3"/><line x1="192.8" y1="389.2" x2="192.8" y2="369.6"/><line x1="198.8" y1="389.2" x2="198.8" y2="377.3"/><line x1="204.9" y1="389.2" x2="204.9" y2="369.6"/><line x1="210.9" y1="389.2" x2="210.9" y2="377.3"/><line x1="217.0" y1="389.2" x2="217.0" y2="369.6"/><line x1="223.0" y1="389.2" x2="223.0" y2="377.3"/><line x1="229.1" y1="389.2" x2="229.1" y2="369.6"/><line x1="235.1" y1="389.2" x2="235.1" y2="377.3"/><line x1="241.2" y1="389.2" x2="241.2" y2="369.6"/><line x1="247.2" y1="389.2" x2="247.2" y2="377.3"/><line x1="253.3" y1="389.2" x2="253.3" y2="369.6"/><line x1="259.3" y1="389.2" x2="259.3" y2="377.3"/><line x1="265.4" y1="389.2" x2="265.4" y2="369.8"/><line x1="271.4" y1="389.2" x2="271.4" y2="377.3"/><line x1="277.5" y1="389.2" x2="277.5" y2="375.9"/><line x1="283.5" y1="389.2" x2="283.5" y2="378.9"/><line x1="289.6" y1="389.2" x2="289.6" y2="381.9"/><line x1="295.6" y1="389.2" x2="295.6" y2="385.0"/></g>
<line x1="28" y1="331" x2="44" y2="331" stroke="#555" stroke-width="1"/>
<line x1="316" y1="331" x2="334" y2="331" stroke="#555" stroke-width="1"/>
<line x1="179.8" y1="258" x2="179.8" y2="271" stroke="#555" stroke-width="1"/>
<line x1="180" y1="398.7" x2="180" y2="413.7" stroke="#555" stroke-width="1"/>
<text transform="translate(174.3,264.5) scale(1,1)" font-size="11" fill="#555" text-anchor="middle" dominant-baseline="central" font-weight="normal" opacity="1" font-family="Liberation Serif">II</text>
<text transform="translate(173.7,407.5) scale(1,1)" font-size="11" fill="#555" text-anchor="middle" dominant-baseline="central" font-weight="normal" opacity="1" font-family="Liberation Serif">II</text>
<text transform="translate(37,322.5) scale(1,1)" font-size="9.5" fill="#666" text-anchor="middle" dominant-baseline="central" font-weight="normal" opacity="1" font-family="Liberation Serif">I</text>
<text transform="translate(325.4,322.7) scale(1,1)" font-size="9.5" fill="#666" text-anchor="middle" dominant-baseline="central" font-weight="normal" opacity="1" font-family="Liberation Serif">I</text>
<text transform="translate(98,330) scale(0.62,1)" font-size="12.5" fill="#9a9a9a" text-anchor="middle" dominant-baseline="central" font-weight="normal" opacity="1">1000</text>
<text transform="translate(263,330) scale(0.62,1)" font-size="12.5" fill="#9a9a9a" text-anchor="middle" dominant-baseline="central" font-weight="normal" opacity="1">1000</text>
<text transform="translate(176,365) rotate(90) scale(0.7,1)" font-size="7" fill="#aaa" text-anchor="middle" dominant-baseline="central" font-weight="normal" opacity="1">D150</text>
<g opacity="1"><rect x="201.00" y="398.00" width="3.65" height="4.00" fill="#888" opacity="0.25"/><path transform="translate(201.00,398.00) scale(0.365,0.400)" d="M1,2 H9 M2,4 V9 M2,4 H8 V9 M2,9 H8 M5,1 V10" stroke="#888" stroke-width="1.37" fill="none" vector-effect="none"/><rect x="205.25" y="398.00" width="3.65" height="4.00" fill="#888" opacity="0.25"/><path transform="translate(205.25,398.00) scale(0.365,0.400)" d="M1,2 H9 M1,5 H9 M1,8.5 H9 M3,1 V10 M7,1 V10" stroke="#888" stroke-width="1.37" fill="none" vector-effect="none"/><rect x="209.50" y="398.00" width="3.65" height="4.00" fill="#888" opacity="0.25"/><path transform="translate(209.50,398.00) scale(0.365,0.400)" d="M2,1 L3,2.5 M0.8,4 H2.8 V9 M4.5,2 H9.5 M4.5,5 H9.5 M4,8 H10 M7,2 V10" stroke="#888" stroke-width="1.37" fill="none" vector-effect="none"/><rect x="213.75" y="398.00" width="3.65" height="4.00" fill="#888" opacity="0.25"/><path transform="translate(213.75,398.00) scale(0.365,0.400)" d="M1,2 H9 M1,5 H9 M1,8.5 H9 M3,1 V10 M7,1 V10" stroke="#888" stroke-width="1.37" fill="none" vector-effect="none"/></g>
<path transform="translate(168.00,417.80) scale(0.650,0.770)" d="M1.5,1.5 H8.5 M3,3 L3.8,4.5 M7,3 L6.2,4.5 M1,5.5 H9 M5,1.5 V10" stroke="#4a4a4a" stroke-width="1.56" fill="none"/>
<path transform="translate(178.00,417.80) scale(0.650,0.770)" d="M0.5,1 H9.5 M4,1 L3.5,3 M1.5,3 V10 M1.5,3 H8.5 V10 M1.5,9.5 H8.5 M3.8,3 V9.5 M6.2,3 V9.5 M3.8,5.5 H6.2 M3.8,7.5 H6.2" stroke="#4a4a4a" stroke-width="1.56" fill="none"/>
<path transform="translate(188.00,417.80) scale(0.650,0.770)" d="M1,1 V10 M1,1 H9 V10 M1,9.5 H9 M4,2.5 L3,4.5 M4,2.5 H6.5 L3,6 M4,4 L7,6 M4,7.5 L6,8" stroke="#4a4a4a" stroke-width="1.56" fill="none"/>
<line x1="162" y1="427.7" x2="197" y2="427.7" stroke="#444" stroke-width="1.8"/>
<path d="M417.4,349 L438.7,314.8 L518.6,315 L497.3,349 Z" stroke="#444" stroke-width="1.1" fill="none"/>
<path d="M417.4,349 V360 H497.8 V349" stroke="#444" stroke-width="1.1" fill="none"/>
<path d="M497.8,360 L518.6,326.4 V315" stroke="#444" stroke-width="1.1" fill="none"/>
<path d="M424,349 L441,319.8 H509 L492.2,348.3" stroke="#666" stroke-width="0.9" fill="none"/>
<path d="M427,352 L445.3,326 H504 L491.5,347" stroke="#777" stroke-width="0.9" fill="none"/>
<line x1="427" y1="348.3" x2="492" y2="348.3" stroke="#777" stroke-width="0.9"/>
<line x1="424" y1="352" x2="491.5" y2="352" stroke="#777" stroke-width="0.9"/>
<path d="M470,322 Q480,333 470,350" stroke="#aaa" stroke-width="0.6" fill="none"/>
<line x1="466" y1="290" x2="466" y2="320" stroke="#999" stroke-width="0.6"/>
<line x1="533" y1="283" x2="533" y2="327" stroke="#999" stroke-width="0.6"/>
<line x1="519" y1="315" x2="536" y2="315" stroke="#999" stroke-width="0.6"/>
<line x1="519" y1="326.4" x2="536" y2="326.4" stroke="#999" stroke-width="0.6"/>
<line x1="417.4" y1="375" x2="497.8" y2="375" stroke="#999" stroke-width="0.6"/>
<line x1="417.4" y1="362" x2="417.4" y2="378" stroke="#999" stroke-width="0.6"/>
<line x1="497.8" y1="362" x2="497.8" y2="378" stroke="#999" stroke-width="0.6"/>
<line x1="398" y1="349" x2="417" y2="349" stroke="#999" stroke-width="0.6"/>
<line x1="398" y1="357" x2="417" y2="357" stroke="#999" stroke-width="0.6"/>
<line x1="503" y1="367" x2="530" y2="331" stroke="#999" stroke-width="0.6"/>
<text transform="translate(461,311) rotate(-90) scale(0.6,1)" font-size="11" fill="#9a9a9a" text-anchor="middle" dominant-baseline="central" font-weight="normal" opacity="1">70</text>
<text transform="translate(528,304) rotate(-90) scale(0.6,1)" font-size="12" fill="#9a9a9a" text-anchor="middle" dominant-baseline="central" font-weight="normal" opacity="1">120</text>
<text transform="translate(513,345) rotate(-55) scale(0.6,1)" font-size="12" fill="#9a9a9a" text-anchor="middle" dominant-baseline="central" font-weight="normal" opacity="1">540</text>
<text transform="translate(459,368.5) scale(0.62,1)" font-size="12" fill="#9a9a9a" text-anchor="middle" dominant-baseline="central" font-weight="normal" opacity="1">920</text>
<text transform="translate(401.5,349) rotate(-90) scale(0.55,1)" font-size="10" fill="#9a9a9a" text-anchor="middle" dominant-baseline="central" font-weight="normal" opacity="1">80,40</text>
<text transform="translate(424,328) rotate(-55) scale(0.6,1)" font-size="10" fill="#9a9a9a" text-anchor="middle" dominant-baseline="central" font-weight="normal" opacity="1">70</text>
<text transform="translate(465,335) scale(0.7,1)" font-size="5" fill="#aaa" text-anchor="middle" dominant-baseline="central" font-weight="normal" opacity="1">680</text>
<text transform="translate(487,321.5) scale(0.7,1)" font-size="5" fill="#aaa" text-anchor="middle" dominant-baseline="central" font-weight="normal" opacity="1">240</text>
<g opacity="1"><rect x="491.80" y="384.95" width="6.42" height="5.50" fill="#555" opacity="0.25"/><path transform="translate(491.80,384.95) scale(0.642,0.550)" d="M1,1.5 H9 M5,1.5 V10 M1.5,5 L3.5,8 M8.5,5 L6.5,8 M2,9.5 H8" stroke="#555" stroke-width="1.10" fill="none" vector-effect="none"/><rect x="499.26" y="384.95" width="6.42" height="5.50" fill="#555" opacity="0.25"/><path transform="translate(499.26,384.95) scale(0.642,0.550)" d="M1.5,1 V10 M1.5,1 H8.5 V10 M1.5,9.5 H8.5 M4,4 H6.5 M4,6.5 H6.5" stroke="#555" stroke-width="1.10" fill="none" vector-effect="none"/><rect x="506.72" y="384.95" width="6.42" height="5.50" fill="#555" opacity="0.25"/><path transform="translate(506.72,384.95) scale(0.642,0.550)" d="M1,1.5 H9 M5,1.5 V10 M1.5,5 L3.5,8 M8.5,5 L6.5,8 M2,9.5 H8" stroke="#555" stroke-width="1.10" fill="none" vector-effect="none"/><rect x="514.18" y="384.95" width="6.42" height="5.50" fill="#555" opacity="0.25"/><path transform="translate(514.18,384.95) scale(0.642,0.550)" d="M2.5,1 V10 M0.5,4 H4.5 M5.5,1.5 H9.5 V5 H5.5 Z M5.5,7 H9.5 M7.5,5 V10" stroke="#555" stroke-width="1.10" fill="none" vector-effect="none"/><rect x="521.64" y="384.95" width="6.42" height="5.50" fill="#555" opacity="0.25"/><path transform="translate(521.64,384.95) scale(0.642,0.550)" d="M1,1.5 H9 M5,1.5 V10 M1.5,5 L3.5,8 M8.5,5 L6.5,8 M2,9.5 H8" stroke="#555" stroke-width="1.10" fill="none" vector-effect="none"/><rect x="529.10" y="384.95" width="6.42" height="5.50" fill="#555" opacity="0.25"/><path transform="translate(529.10,384.95) scale(0.642,0.550)" d="M2,1 L3,2.5 M0.8,4 H2.8 V9 M4.5,2 H9.5 M4.5,5 H9.5 M4,8 H10 M7,2 V10" stroke="#555" stroke-width="1.10" fill="none" vector-effect="none"/><rect x="536.56" y="384.95" width="6.42" height="5.50" fill="#555" opacity="0.25"/><path transform="translate(536.56,384.95) scale(0.642,0.550)" d="M2,1 L3,2.5 M0.8,4 H2.8 V9 M4.5,2 H9.5 M4.5,5 H9.5 M4,8 H10 M7,2 V10" stroke="#555" stroke-width="1.10" fill="none" vector-effect="none"/><rect x="544.02" y="384.95" width="6.42" height="5.50" fill="#555" opacity="0.25"/><path transform="translate(544.02,384.95) scale(0.642,0.550)" d="M2,1 L3,2.5 M0.8,4 H2.8 V9 M4.5,2 H9.5 M4.5,5 H9.5 M4,8 H10 M7,2 V10" stroke="#555" stroke-width="1.10" fill="none" vector-effect="none"/><rect x="551.48" y="384.95" width="6.42" height="5.50" fill="#555" opacity="0.25"/><path transform="translate(551.48,384.95) scale(0.642,0.550)" d="M1,2 H9 M1,5 H9 M1,8.5 H9 M3,1 V10 M7,1 V10" stroke="#555" stroke-width="1.10" fill="none" vector-effect="none"/><rect x="558.94" y="384.95" width="6.42" height="5.50" fill="#555" opacity="0.25"/><path transform="translate(558.94,384.95) scale(0.642,0.550)" d="M1,1.5 H9 M5,1.5 V10 M1.5,5 L3.5,8 M8.5,5 L6.5,8 M2,9.5 H8" stroke="#555" stroke-width="1.10" fill="none" vector-effect="none"/></g>
<line x1="491.8" y1="395.2" x2="567" y2="395.2" stroke="#555" stroke-width="1.2"/>
<text transform="translate(572.5,406) scale(0.7,1)" font-size="6" fill="#888" text-anchor="middle" dominant-baseline="central" font-weight="normal" opacity="1">L</text>
<g opacity="1"><rect x="576.00" y="403.90" width="4.30" height="4.20" fill="#888" opacity="0.25"/><path transform="translate(576.00,403.90) scale(0.430,0.420)" d="M2,1 L3,2.5 M0.8,4 H2.8 V9 M4.5,2 H9.5 M4.5,5 H9.5 M4,8 H10 M7,2 V10" stroke="#888" stroke-width="1.19" fill="none" vector-effect="none"/><rect x="581.00" y="403.90" width="4.30" height="4.20" fill="#888" opacity="0.25"/><path transform="translate(581.00,403.90) scale(0.430,0.420)" d="M2,1 L3,2.5 M0.8,4 H2.8 V9 M4.5,2 H9.5 M4.5,5 H9.5 M4,8 H10 M7,2 V10" stroke="#888" stroke-width="1.19" fill="none" vector-effect="none"/><rect x="586.00" y="403.90" width="4.30" height="4.20" fill="#888" opacity="0.25"/><path transform="translate(586.00,403.90) scale(0.430,0.420)" d="M1,2 H9 M2,4 V9 M2,4 H8 V9 M2,9 H8 M5,1 V10" stroke="#888" stroke-width="1.19" fill="none" vector-effect="none"/><rect x="591.00" y="403.90" width="4.30" height="4.20" fill="#888" opacity="0.25"/><path transform="translate(591.00,403.90) scale(0.430,0.420)" d="M1.5,1 V10 M1.5,1 H8.5 V10 M1.5,9.5 H8.5 M4,4 H6.5 M4,6.5 H6.5" stroke="#888" stroke-width="1.19" fill="none" vector-effect="none"/><rect x="596.00" y="403.90" width="4.30" height="4.20" fill="#888" opacity="0.25"/><path transform="translate(596.00,403.90) scale(0.430,0.420)" d="M1,1.5 H9 M5,1.5 V10 M1.5,5 L3.5,8 M8.5,5 L6.5,8 M2,9.5 H8" stroke="#888" stroke-width="1.19" fill="none" vector-effect="none"/></g>
<path transform="translate(334.00,418.70) scale(0.800,1.130)" d="M1,1 H9 M5,1 V3.5 M1.5,3.5 V10 M1.5,3.5 H8.5 V10 M5,3.5 V9 M3,5 L3.8,6 M3,7 L3.8,8 M6.5,5 L7.3,6 M6.5,7 L7.3,8" stroke="#3a3a3a" stroke-width="1.50" fill="none"/>
<path transform="translate(346.80,418.70) scale(0.820,1.130)" d="M5,0.5 V9.5 L4,9 M1,3.5 H3.5 L1,8.5 M8.5,2.5 L6,5 L9.5,9" stroke="#3a3a3a" stroke-width="1.50" fill="none"/>
<path transform="translate(360.50,420.50) scale(0.650,0.750)" d="M2,2 V9 M2,2 H8 V9 M2,8.5 H8" stroke="#777" stroke-width="1.47" fill="none"/>
<path transform="translate(373.00,418.70) scale(0.930,1.130)" d="M1.5,1 L2.5,2 M0.8,4 H2.5 V8.5 L3.5,7.5 M5,1 L6,2.5 M9,1 L8,2.5 M4.5,3 H9.5 M4.8,5 H9.2 M4,7 H10 M7,3 V10" stroke="#4a4a4a" stroke-width="1.33" fill="none"/>
<path transform="translate(386.00,418.70) scale(0.880,1.130)" d="M1,1 V10 M1,1 H9 V10 M1,9.5 H9 M4,2.5 L3,4.5 M4,2.5 H6.5 L3,6 M4,4 L7,6 M4,7.5 L6,8" stroke="#4a4a4a" stroke-width="1.42" fill="none"/>
<line x1="330" y1="431.4" x2="360" y2="431.4" stroke="#444" stroke-width="1.8"/>
<line x1="379" y1="431.4" x2="386" y2="431.4" stroke="#444" stroke-width="1.8"/>
<line x1="390" y1="431.4" x2="399" y2="431.4" stroke="#444" stroke-width="1.8"/>
</g>
</svg>
</body></html>
